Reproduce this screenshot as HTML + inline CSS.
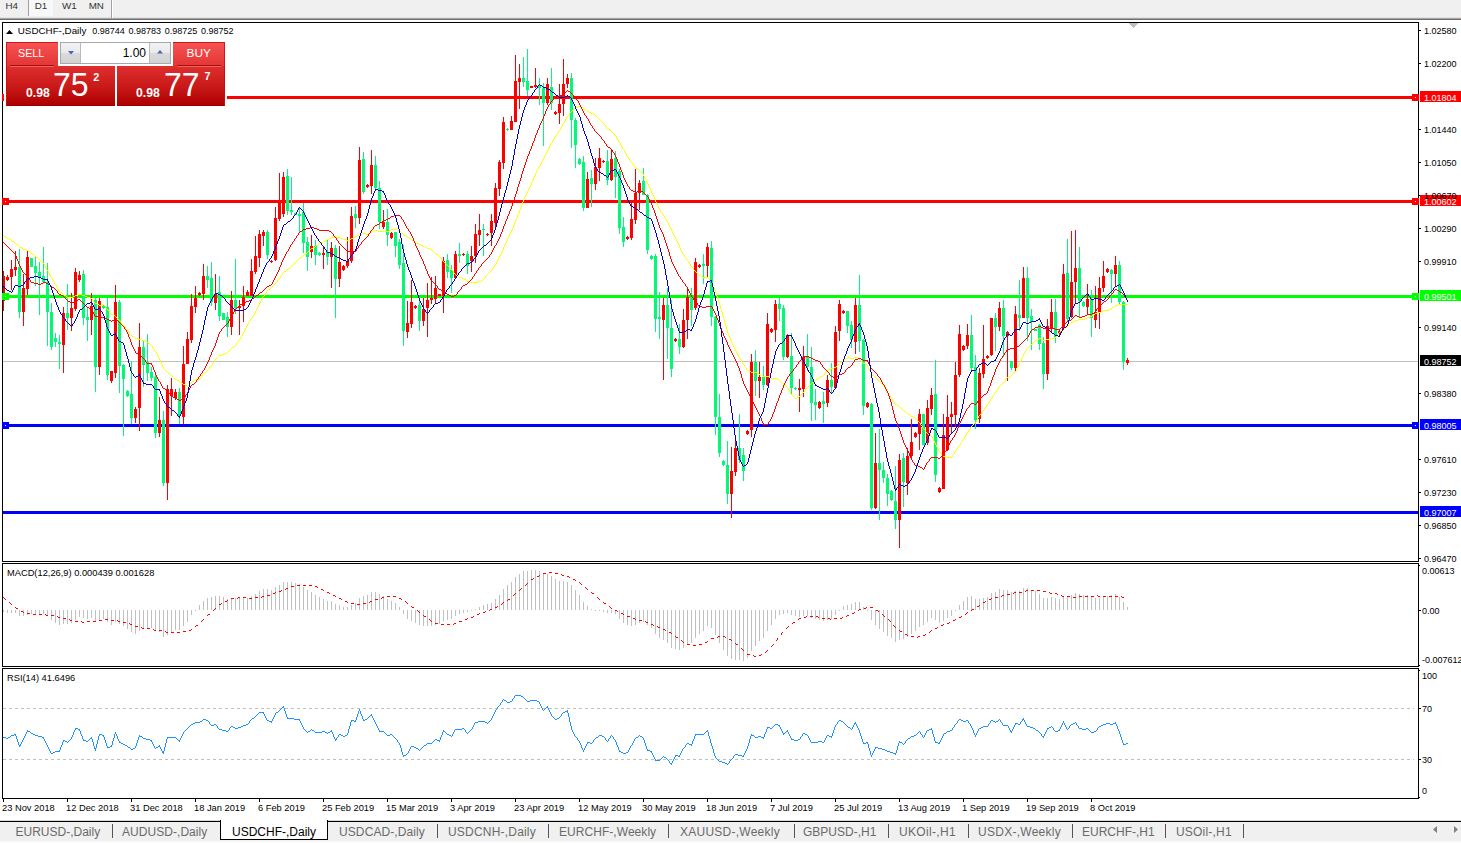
<!DOCTYPE html><html><head><meta charset="utf-8"><title>USDCHF-,Daily</title><style>
*{margin:0;padding:0;box-sizing:border-box}
html,body{width:1461px;height:843px;overflow:hidden;background:#fff}
body{font-family:"Liberation Sans",sans-serif;position:relative;color:#000}
.t{position:absolute;white-space:nowrap;line-height:1}
.ax{font-size:9.7px;left:1424px;transform:scaleX(.93);transform-origin:0 50%}
.axw{font-size:9.7px;left:1424px;color:#fff;transform:scaleX(.93);transform-origin:0 50%}
.dt{font-size:9.3px;top:803.6px}
.tab{font-size:12px;color:#6a6a6a;top:826px}
</style></head><body>
<div style="position:absolute;left:0;top:0;width:1461px;height:17px;background:#F0F0F0"></div>
<div style="position:absolute;left:0;top:17px;width:1461px;height:1px;background:#E2E2E2"></div>
<div style="position:absolute;left:0;top:18px;width:1461px;height:1px;background:#A6A6A6"></div>
<div style="position:absolute;left:0;top:19px;width:1461px;height:1px;background:#6E6E6E"></div>
<div style="position:absolute;left:29px;top:0;width:24px;height:16px;background:#F8F8F8"></div>
<div style="position:absolute;left:28px;top:0;width:1px;height:16px;background:#A0A0A0"></div>
<div style="position:absolute;left:111px;top:0;width:1px;height:18px;background:#A0A0A0"></div>
<div style="position:absolute;left:112px;top:0;width:1px;height:18px;background:#fff"></div>
<div class="t" style="left:5.5px;top:1.4px;font-size:9.8px;color:#333">H4</div>
<div class="t" style="left:34.8px;top:1.4px;font-size:9.8px;color:#333">D1</div>
<div class="t" style="left:62px;top:1.4px;font-size:9.8px;color:#333">W1</div>
<div class="t" style="left:88.7px;top:1.4px;font-size:9.8px;color:#333">MN</div>
<svg width="1461" height="843" viewBox="0 0 1461 843" style="position:absolute;left:0;top:0" shape-rendering="crispEdges"><defs><clipPath id="cm"><rect x="3" y="23" width="1415" height="538"/></clipPath><clipPath id="c2"><rect x="3" y="564" width="1415" height="102"/></clipPath><clipPath id="c3"><rect x="3" y="669" width="1415" height="129"/></clipPath></defs><g fill="#000"><rect x="2" y="22" width="1" height="777"/><rect x="2" y="22" width="1417" height="1"/><rect x="1418" y="22" width="1" height="777"/><rect x="2" y="561" width="1417" height="1"/><rect x="2" y="563" width="1417" height="1"/><rect x="2" y="666" width="1417" height="1"/><rect x="2" y="668" width="1417" height="1"/><rect x="2" y="798" width="1417" height="1"/></g><rect x="0" y="562" width="1461" height="1" fill="#fff"/><rect x="0" y="667" width="1461" height="1" fill="#fff"/><g clip-path="url(#cm)"><rect x="3" y="361" width="1415" height="1" fill="#C0C0C0"/><rect x="3" y="96" width="1415" height="3" fill="#FF0000"/><rect x="3" y="200" width="1415" height="3" fill="#FF0000"/><rect x="3" y="295" width="1415" height="3" fill="#00FF00"/><rect x="3" y="424" width="1415" height="3" fill="#0000FF"/><rect x="3" y="511" width="1415" height="3" fill="#0000FF"/><path d="M19 249h1v69h-1zM31 258h1v9h-1zM35 257h1v29h-1zM39 262h1v53h-1zM43 247h1v35h-1zM47 263h1v83h-1zM51 303h1v47h-1zM55 333h1v14h-1zM59 335h1v34h-1zM67 284h1v46h-1zM83 270h1v55h-1zM87 307h1v34h-1zM95 298h1v94h-1zM103 305h1v4h-1zM107 298h1v82h-1zM119 300h1v93h-1zM123 364h1v72h-1zM127 390h1v7h-1zM131 361h1v63h-1zM143 340h1v47h-1zM147 334h1v47h-1zM151 367h1v14h-1zM155 374h1v64h-1zM163 411h1v75h-1zM179 388h1v36h-1zM207 266h1v22h-1zM211 262h1v44h-1zM219 276h1v45h-1zM223 313h1v7h-1zM227 312h1v25h-1zM235 259h1v55h-1zM267 230h1v29h-1zM287 169h1v46h-1zM291 177h1v38h-1zM295 213h1v2h-1zM299 208h1v24h-1zM303 203h1v50h-1zM307 237h1v34h-1zM315 240h1v25h-1zM319 252h1v4h-1zM327 240h1v25h-1zM335 245h1v73h-1zM355 206h1v22h-1zM363 152h1v42h-1zM375 156h1v34h-1zM379 181h1v48h-1zM387 209h1v37h-1zM395 232h1v25h-1zM399 239h1v30h-1zM403 245h1v101h-1zM419 300h1v31h-1zM447 254h1v24h-1zM451 265h1v28h-1zM459 243h1v20h-1zM467 251h1v23h-1zM483 224h1v32h-1zM507 128h1v3h-1zM523 57h1v30h-1zM527 49h1v47h-1zM539 78h1v27h-1zM543 83h1v63h-1zM551 68h1v42h-1zM571 73h1v75h-1zM575 118h1v50h-1zM579 158h1v7h-1zM583 156h1v55h-1zM591 170h1v37h-1zM607 150h1v35h-1zM615 151h1v47h-1zM619 169h1v65h-1zM623 217h1v30h-1zM643 168h1v27h-1zM647 194h1v60h-1zM651 255h1v5h-1zM655 254h1v78h-1zM659 292h1v47h-1zM667 288h1v71h-1zM671 300h1v77h-1zM679 324h1v30h-1zM691 288h1v38h-1zM703 254h1v30h-1zM711 241h1v85h-1zM715 316h1v119h-1zM719 394h1v63h-1zM723 460h1v6h-1zM727 441h1v63h-1zM739 414h1v49h-1zM743 448h1v33h-1zM755 350h1v46h-1zM763 366h1v24h-1zM779 298h1v23h-1zM783 305h1v55h-1zM791 333h1v61h-1zM795 387h1v3h-1zM807 334h1v37h-1zM811 347h1v74h-1zM815 389h1v31h-1zM823 392h1v31h-1zM831 363h1v31h-1zM847 311h1v22h-1zM851 321h1v27h-1zM859 275h1v77h-1zM863 339h1v76h-1zM871 403h1v107h-1zM879 429h1v91h-1zM883 462h1v21h-1zM887 474h1v32h-1zM891 490h1v11h-1zM895 466h1v63h-1zM903 453h1v54h-1zM923 414h1v31h-1zM935 360h1v122h-1zM971 315h1v55h-1zM975 355h1v74h-1zM995 313h1v38h-1zM1003 300h1v57h-1zM1011 361h1v9h-1zM1019 280h1v51h-1zM1027 267h1v74h-1zM1031 309h1v41h-1zM1035 329h1v2h-1zM1039 324h1v26h-1zM1043 337h1v52h-1zM1055 299h1v44h-1zM1067 239h1v82h-1zM1079 247h1v70h-1zM1083 301h1v6h-1zM1091 290h1v47h-1zM1111 269h1v34h-1zM1119 261h1v43h-1zM1123 301h1v69h-1zM18 267h3v45h-3zM30 258h3v9h-3zM34 266h3v7h-3zM38 272h3v5h-3zM42 276h3v6h-3zM46 282h3v30h-3zM50 312h3v35h-3zM54 338h3v4h-3zM58 342h3v2h-3zM66 313h3v5h-3zM82 274h3v44h-3zM86 317h3v3h-3zM94 300h3v67h-3zM102 306h3v2h-3zM106 307h3v68h-3zM118 302h3v64h-3zM122 365h3v14h-3zM126 391h3v5h-3zM130 394h3v24h-3zM142 347h3v18h-3zM146 362h3v11h-3zM150 372h3v6h-3zM154 377h3v56h-3zM162 420h3v63h-3zM178 392h3v24h-3zM206 276h3v4h-3zM210 278h3v24h-3zM218 292h3v24h-3zM222 313h3v7h-3zM226 317h3v10h-3zM234 300h3v8h-3zM266 232h3v23h-3zM286 176h3v35h-3zM290 210h3v2h-3zM294 213h3v2h-3zM298 214h3v2h-3zM302 212h3v31h-3zM306 242h3v15h-3zM314 246h3v9h-3zM318 253h3v2h-3zM326 252h3v5h-3zM334 248h3v31h-3zM354 214h3v4h-3zM362 159h3v33h-3zM374 165h3v23h-3zM378 188h3v34h-3zM386 222h3v13h-3zM394 232h3v14h-3zM398 242h3v23h-3zM402 263h3v68h-3zM418 305h3v16h-3zM446 260h3v12h-3zM450 270h3v8h-3zM458 254h3v2h-3zM466 254h3v12h-3zM482 229h3v1h-3zM506 129h3v1h-3zM522 78h3v4h-3zM526 81h3v9h-3zM538 85h3v3h-3zM542 88h3v15h-3zM550 87h3v16h-3zM570 78h3v42h-3zM574 120h3v25h-3zM578 159h3v5h-3zM582 162h3v46h-3zM590 178h3v6h-3zM606 161h3v19h-3zM614 158h3v19h-3zM618 171h3v57h-3zM622 227h3v15h-3zM642 181h3v14h-3zM646 195h3v55h-3zM650 256h3v3h-3zM654 256h3v63h-3zM658 317h3v2h-3zM666 305h3v23h-3zM670 328h3v41h-3zM678 339h3v8h-3zM690 297h3v13h-3zM702 264h3v2h-3zM710 248h3v69h-3zM714 317h3v100h-3zM718 417h3v36h-3zM722 461h3v4h-3zM726 465h3v29h-3zM738 448h3v12h-3zM742 455h3v16h-3zM754 362h3v19h-3zM762 377h3v8h-3zM778 304h3v5h-3zM782 308h3v49h-3zM790 356h3v32h-3zM794 388h3v1h-3zM806 357h3v10h-3zM810 367h3v36h-3zM814 402h3v3h-3zM822 401h3v3h-3zM830 380h3v7h-3zM846 311h3v15h-3zM850 325h3v15h-3zM858 305h3v36h-3zM862 340h3v66h-3zM870 404h3v104h-3zM878 463h3v7h-3zM882 470h3v8h-3zM886 478h3v16h-3zM890 491h3v9h-3zM894 501h3v19h-3zM902 458h3v24h-3zM922 414h3v31h-3zM934 394h3v81h-3zM970 335h3v33h-3zM974 367h3v53h-3zM994 318h3v9h-3zM1002 308h3v28h-3zM1010 361h3v7h-3zM1018 315h3v3h-3zM1026 278h3v40h-3zM1030 316h3v6h-3zM1034 329h3v2h-3zM1038 325h3v19h-3zM1042 343h3v31h-3zM1054 312h3v25h-3zM1066 273h3v46h-3zM1078 268h3v33h-3zM1082 302h3v4h-3zM1090 299h3v19h-3zM1110 270h3v4h-3zM1118 265h3v37h-3zM1122 302h3v60h-3z" fill="#00FA78"/><path d="M3 271h1v40h-1zM7 275h1v6h-1zM11 260h1v30h-1zM15 251h1v25h-1zM23 274h1v52h-1zM27 250h1v45h-1zM63 307h1v66h-1zM71 293h1v38h-1zM75 268h1v43h-1zM79 271h1v11h-1zM91 293h1v42h-1zM99 298h1v77h-1zM111 371h1v12h-1zM115 285h1v93h-1zM135 407h1v16h-1zM139 323h1v108h-1zM159 397h1v40h-1zM167 385h1v115h-1zM171 378h1v38h-1zM175 389h1v11h-1zM183 346h1v78h-1zM187 332h1v32h-1zM191 294h1v49h-1zM195 286h1v27h-1zM199 292h1v4h-1zM203 264h1v36h-1zM215 274h1v36h-1zM231 291h1v44h-1zM239 300h1v35h-1zM243 286h1v36h-1zM247 290h1v6h-1zM251 259h1v37h-1zM255 236h1v38h-1zM259 230h1v37h-1zM263 230h1v16h-1zM271 260h1v3h-1zM275 207h1v54h-1zM279 173h1v48h-1zM283 172h1v45h-1zM311 235h1v23h-1zM323 246h1v23h-1zM331 242h1v46h-1zM339 246h1v41h-1zM343 265h1v6h-1zM347 237h1v31h-1zM351 207h1v56h-1zM359 147h1v77h-1zM367 184h1v4h-1zM371 150h1v44h-1zM383 210h1v19h-1zM391 232h1v7h-1zM407 301h1v37h-1zM411 280h1v48h-1zM415 305h1v4h-1zM423 298h1v28h-1zM427 283h1v54h-1zM431 277h1v27h-1zM435 276h1v28h-1zM439 294h1v2h-1zM443 257h1v56h-1zM455 251h1v28h-1zM463 253h1v3h-1zM471 246h1v26h-1zM475 224h1v39h-1zM479 214h1v32h-1zM487 233h1v3h-1zM491 214h1v32h-1zM495 183h1v44h-1zM499 160h1v36h-1zM503 117h1v52h-1zM511 116h1v14h-1zM515 55h1v67h-1zM519 64h1v45h-1zM531 86h1v2h-1zM535 68h1v20h-1zM547 78h1v27h-1zM555 111h1v4h-1zM559 84h1v40h-1zM563 59h1v57h-1zM567 74h1v14h-1zM587 172h1v36h-1zM595 158h1v32h-1zM599 148h1v33h-1zM603 160h1v3h-1zM611 150h1v31h-1zM627 236h1v4h-1zM631 203h1v37h-1zM635 169h1v55h-1zM639 180h1v30h-1zM663 298h1v82h-1zM675 338h1v4h-1zM683 309h1v39h-1zM687 288h1v51h-1zM695 258h1v52h-1zM699 264h1v4h-1zM707 243h1v35h-1zM731 447h1v71h-1zM735 441h1v35h-1zM747 430h1v5h-1zM751 354h1v83h-1zM759 362h1v36h-1zM767 313h1v73h-1zM771 328h1v5h-1zM775 300h1v42h-1zM787 334h1v24h-1zM799 379h1v33h-1zM803 346h1v51h-1zM819 401h1v8h-1zM827 375h1v32h-1zM835 326h1v63h-1zM839 300h1v41h-1zM843 310h1v4h-1zM855 298h1v56h-1zM867 402h1v6h-1zM875 433h1v76h-1zM899 454h1v94h-1zM907 448h1v47h-1zM911 419h1v39h-1zM915 432h1v6h-1zM919 409h1v41h-1zM927 400h1v45h-1zM931 388h1v27h-1zM939 487h1v6h-1zM943 414h1v75h-1zM947 395h1v56h-1zM951 402h1v32h-1zM955 362h1v65h-1zM959 325h1v52h-1zM963 345h1v6h-1zM967 324h1v25h-1zM979 368h1v55h-1zM983 325h1v53h-1zM987 355h1v4h-1zM991 318h1v38h-1zM999 302h1v29h-1zM1007 331h1v50h-1zM1015 306h1v65h-1zM1023 267h1v51h-1zM1047 319h1v61h-1zM1051 299h1v33h-1zM1059 330h1v5h-1zM1063 264h1v66h-1zM1071 231h1v87h-1zM1075 230h1v74h-1zM1087 284h1v31h-1zM1095 286h1v42h-1zM1099 277h1v52h-1zM1103 261h1v31h-1zM1107 268h1v5h-1zM1115 256h1v30h-1zM1127 358h1v7h-1zM2 276h3v25h-3zM6 277h3v3h-3zM10 269h3v8h-3zM14 267h3v3h-3zM22 288h3v24h-3zM26 257h3v32h-3zM62 313h3v32h-3zM70 308h3v10h-3zM74 272h3v37h-3zM78 275h3v5h-3zM90 306h3v14h-3zM98 301h3v66h-3zM110 371h3v10h-3zM114 302h3v71h-3zM134 409h3v9h-3zM138 347h3v61h-3zM158 420h3v13h-3zM166 389h3v94h-3zM170 389h3v7h-3zM174 392h3v6h-3zM182 364h3v53h-3zM186 339h3v25h-3zM190 306h3v34h-3zM194 298h3v9h-3zM198 293h3v2h-3zM202 276h3v18h-3zM214 294h3v9h-3zM230 300h3v27h-3zM238 306h3v2h-3zM242 297h3v9h-3zM246 292h3v4h-3zM250 271h3v25h-3zM254 256h3v16h-3zM258 234h3v24h-3zM262 232h3v4h-3zM270 261h3v1h-3zM274 218h3v42h-3zM278 201h3v18h-3zM282 177h3v37h-3zM310 246h3v6h-3zM322 253h3v2h-3zM330 248h3v9h-3zM338 262h3v17h-3zM342 266h3v4h-3zM346 261h3v5h-3zM350 216h3v45h-3zM358 160h3v58h-3zM366 185h3v2h-3zM370 165h3v21h-3zM382 222h3v5h-3zM390 233h3v5h-3zM406 323h3v9h-3zM410 302h3v22h-3zM414 306h3v2h-3zM422 309h3v12h-3zM426 300h3v8h-3zM430 298h3v2h-3zM434 288h3v11h-3zM438 294h3v2h-3zM442 261h3v35h-3zM454 254h3v24h-3zM462 254h3v1h-3zM470 256h3v5h-3zM474 234h3v22h-3zM478 230h3v5h-3zM486 234h3v1h-3zM490 221h3v12h-3zM494 188h3v35h-3zM498 162h3v27h-3zM502 122h3v41h-3zM510 121h3v9h-3zM514 81h3v41h-3zM518 78h3v4h-3zM530 86h3v2h-3zM534 85h3v2h-3zM546 84h3v19h-3zM554 112h3v2h-3zM558 104h3v9h-3zM562 84h3v20h-3zM566 78h3v6h-3zM586 179h3v29h-3zM594 167h3v17h-3zM598 158h3v10h-3zM602 161h3v1h-3zM610 159h3v21h-3zM626 237h3v2h-3zM630 219h3v19h-3zM634 193h3v27h-3zM638 183h3v10h-3zM662 305h3v15h-3zM674 339h3v2h-3zM682 320h3v27h-3zM686 297h3v23h-3zM694 262h3v46h-3zM698 265h3v2h-3zM706 247h3v19h-3zM730 471h3v23h-3zM734 448h3v24h-3zM746 431h3v3h-3zM750 362h3v68h-3zM758 377h3v4h-3zM766 324h3v61h-3zM770 329h3v3h-3zM774 304h3v26h-3zM786 335h3v22h-3zM798 388h3v2h-3zM802 357h3v32h-3zM818 402h3v6h-3zM826 380h3v23h-3zM834 332h3v56h-3zM838 304h3v27h-3zM842 311h3v2h-3zM854 305h3v37h-3zM866 403h3v4h-3zM874 463h3v45h-3zM898 460h3v60h-3zM906 456h3v27h-3zM910 442h3v14h-3zM914 433h3v4h-3zM918 414h3v20h-3zM926 408h3v35h-3zM930 395h3v14h-3zM938 488h3v4h-3zM942 435h3v54h-3zM946 417h3v33h-3zM950 414h3v3h-3zM954 375h3v40h-3zM958 334h3v41h-3zM962 346h3v4h-3zM966 335h3v11h-3zM978 373h3v46h-3zM982 359h3v15h-3zM986 356h3v2h-3zM990 318h3v37h-3zM998 308h3v19h-3zM1006 332h3v4h-3zM1014 314h3v54h-3zM1022 278h3v40h-3zM1046 326h3v48h-3zM1050 312h3v17h-3zM1058 331h3v3h-3zM1062 274h3v55h-3zM1070 282h3v35h-3zM1074 268h3v14h-3zM1086 299h3v8h-3zM1094 312h3v8h-3zM1098 288h3v24h-3zM1102 276h3v12h-3zM1106 269h3v3h-3zM1114 265h3v9h-3zM1126 360h3v3h-3z" fill="#FF0000"/><path d="M3 235h1v1h-1zM4 236h2v1h-2zM6 237h1v1h-1zM7 238h2v1h-2zM9 239h2v1h-2zM11 240h1v1h-1zM12 241h2v1h-2zM14 242h1v1h-1zM15 243h1v1h-1zM16 244h2v1h-2zM18 245h1v1h-1zM19 246h1v1h-1zM20 247h2v1h-2zM22 248h1v1h-1zM23 249h3v1h-3zM26 250h2v1h-2zM28 251h2v1h-2zM30 252h1v1h-1zM31 253h1v1h-1zM32 254h2v1h-2zM34 255h1v1h-1zM35 256h1v1h-1zM36 257h2v1h-2zM38 258h1v1h-1zM39 259h1v1h-1zM40 260h1v1h-1zM41 261h1v1h-1zM42 262h1v1h-1zM43 263h1v1h-1zM44 264h1v2h-1zM45 266h1v2h-1zM46 268h1v2h-1zM47 270h1v1h-1zM48 271h1v2h-1zM49 273h1v2h-1zM50 275h1v2h-1zM51 277h1v1h-1zM52 278h1v2h-1zM53 280h1v2h-1zM54 282h1v2h-1zM55 284h1v1h-1zM56 285h1v2h-1zM57 287h1v2h-1zM58 289h1v2h-1zM59 291h1v1h-1zM60 292h2v1h-2zM62 293h1v1h-1zM63 294h1v1h-1zM64 295h2v1h-2zM66 296h1v1h-1zM67 297h6v1h-6zM73 296h2v1h-2zM75 295h3v1h-3zM78 294h4v1h-4zM82 295h3v1h-3zM85 296h2v1h-2zM87 297h3v1h-3zM90 298h2v1h-2zM92 299h1v1h-1zM93 300h1v2h-1zM94 302h1v1h-1zM95 303h2v1h-2zM97 304h2v1h-2zM99 305h3v1h-3zM102 304h2v1h-2zM104 305h1v1h-1zM105 306h1v2h-1zM106 308h1v1h-1zM107 309h1v1h-1zM108 310h1v1h-1zM109 311h1v2h-1zM110 313h1v1h-1zM111 314h2v1h-2zM113 315h2v1h-2zM115 316h1v1h-1zM116 317h1v1h-1zM117 318h1v1h-1zM118 319h1v1h-1zM119 320h1v1h-1zM120 321h1v1h-1zM121 322h1v2h-1zM122 324h1v1h-1zM123 325h1v1h-1zM124 326h1v1h-1zM125 327h1v2h-1zM126 329h1v1h-1zM127 330h1v1h-1zM128 331h1v1h-1zM129 332h1v2h-1zM130 334h1v1h-1zM131 335h1v1h-1zM132 336h2v1h-2zM134 337h1v1h-1zM135 338h3v1h-3zM138 339h4v1h-4zM142 340h3v1h-3zM145 341h2v1h-2zM147 342h1v1h-1zM148 343h2v1h-2zM150 344h1v1h-1zM151 345h1v1h-1zM152 346h1v2h-1zM153 348h1v1h-1zM154 349h1v2h-1zM155 351h1v1h-1zM156 352h1v2h-1zM157 354h1v2h-1zM158 356h1v2h-1zM159 358h1v2h-1zM160 360h1v2h-1zM161 362h1v3h-1zM162 365h1v2h-1zM163 367h1v2h-1zM164 369h1v1h-1zM165 370h1v1h-1zM166 371h1v1h-1zM167 372h1v1h-1zM168 373h2v1h-2zM170 374h1v1h-1zM171 375h1v1h-1zM172 376h1v1h-1zM173 377h1v1h-1zM174 378h1v1h-1zM175 379h2v1h-2zM177 380h2v1h-2zM179 381h1v1h-1zM180 382h2v1h-2zM182 383h1v1h-1zM183 384h2v1h-2zM185 385h2v1h-2zM187 386h1v1h-1zM188 385h1v1h-1zM189 384h1v1h-1zM190 383h1v1h-1zM191 382h1v1h-1zM192 381h2v1h-2zM194 380h1v1h-1zM195 379h5v1h-5zM200 378h1v1h-1zM201 376h1v2h-1zM202 375h1v1h-1zM203 374h1v1h-1zM204 373h1v1h-1zM205 372h1v1h-1zM206 371h1v1h-1zM207 370h1v1h-1zM208 369h1v1h-1zM209 367h1v2h-1zM210 366h1v1h-1zM211 365h1v1h-1zM212 363h1v2h-1zM213 362h1v1h-1zM214 360h1v2h-1zM215 359h1v1h-1zM216 358h1v1h-1zM217 357h1v1h-1zM218 356h1v1h-1zM219 355h3v1h-3zM222 354h3v1h-3zM225 353h2v1h-2zM227 352h1v1h-1zM228 351h1v1h-1zM229 350h1v1h-1zM230 349h1v1h-1zM231 348h1v1h-1zM232 347h2v1h-2zM234 346h1v1h-1zM235 345h1v1h-1zM236 343h1v2h-1zM237 342h1v1h-1zM238 340h1v2h-1zM239 339h1v1h-1zM240 337h1v2h-1zM241 336h1v1h-1zM242 334h1v2h-1zM243 332h1v2h-1zM244 330h1v2h-1zM245 328h1v2h-1zM246 326h1v2h-1zM247 324h1v2h-1zM248 322h1v2h-1zM249 321h1v1h-1zM250 319h1v2h-1zM251 318h1v1h-1zM252 316h1v2h-1zM253 315h1v1h-1zM254 313h1v2h-1zM255 311h1v2h-1zM256 309h1v2h-1zM257 307h1v2h-1zM258 305h1v2h-1zM259 303h1v2h-1zM260 301h1v2h-1zM261 299h1v2h-1zM262 297h1v2h-1zM263 296h1v1h-1zM264 294h1v2h-1zM265 293h1v1h-1zM266 291h1v2h-1zM267 290h1v1h-1zM268 289h2v1h-2zM270 288h1v1h-1zM271 287h1v1h-1zM272 286h1v1h-1zM273 285h1v1h-1zM274 284h1v1h-1zM275 283h1v1h-1zM276 282h1v1h-1zM277 280h1v2h-1zM278 279h1v1h-1zM279 278h1v1h-1zM280 276h1v2h-1zM281 275h1v1h-1zM282 273h1v2h-1zM283 272h1v1h-1zM284 271h2v1h-2zM286 270h1v1h-1zM287 269h1v1h-1zM288 268h2v1h-2zM290 267h1v1h-1zM291 266h1v1h-1zM292 265h1v1h-1zM293 264h1v1h-1zM294 263h1v1h-1zM295 262h1v1h-1zM296 261h1v1h-1zM297 260h1v1h-1zM298 259h1v1h-1zM299 258h1v1h-1zM300 257h2v1h-2zM302 256h1v1h-1zM303 255h1v1h-1zM304 254h2v1h-2zM306 253h1v1h-1zM307 252h1v1h-1zM308 251h1v1h-1zM309 250h1v1h-1zM310 249h1v1h-1zM311 248h2v1h-2zM313 247h2v1h-2zM315 246h1v1h-1zM316 245h2v1h-2zM318 244h1v1h-1zM319 243h2v1h-2zM321 242h2v1h-2zM323 241h2v1h-2zM325 240h2v1h-2zM327 239h2v1h-2zM329 238h2v1h-2zM331 237h10v1h-10zM341 238h2v1h-2zM343 239h3v1h-3zM346 240h3v1h-3zM349 239h2v1h-2zM351 238h2v1h-2zM353 237h2v1h-2zM355 236h2v1h-2zM357 235h2v1h-2zM359 234h3v1h-3zM362 233h4v1h-4zM366 234h2v1h-2zM368 233h2v1h-2zM370 232h1v1h-1zM371 231h3v1h-3zM374 230h4v1h-4zM378 231h11v1h-11zM389 230h2v1h-2zM391 229h7v1h-7zM398 230h2v1h-2zM400 231h1v1h-1zM401 232h1v1h-1zM402 233h1v1h-1zM403 234h1v1h-1zM404 235h2v1h-2zM406 236h1v1h-1zM407 237h2v1h-2zM409 238h2v1h-2zM411 239h1v1h-1zM412 240h2v1h-2zM414 241h1v1h-1zM415 242h2v1h-2zM417 243h2v1h-2zM419 244h2v1h-2zM421 245h2v1h-2zM423 246h2v1h-2zM425 247h2v1h-2zM427 248h3v1h-3zM430 249h2v1h-2zM432 250h1v1h-1zM433 251h1v1h-1zM434 252h1v1h-1zM435 253h1v1h-1zM436 254h2v1h-2zM438 255h1v1h-1zM439 256h1v1h-1zM440 257h1v1h-1zM441 258h1v2h-1zM442 260h1v1h-1zM443 261h1v1h-1zM444 262h1v1h-1zM445 263h1v1h-1zM446 264h1v1h-1zM447 265h1v1h-1zM448 266h1v1h-1zM449 267h1v1h-1zM450 268h1v1h-1zM451 269h1v1h-1zM452 270h1v1h-1zM453 271h1v2h-1zM454 273h1v1h-1zM455 274h1v1h-1zM456 275h2v1h-2zM458 276h1v1h-1zM459 277h3v1h-3zM462 278h2v1h-2zM464 279h2v1h-2zM466 280h1v1h-1zM467 281h3v1h-3zM470 282h8v1h-8zM478 281h3v1h-3zM481 280h2v1h-2zM483 279h1v1h-1zM484 278h1v1h-1zM485 276h1v2h-1zM486 275h1v1h-1zM487 274h1v1h-1zM488 273h1v1h-1zM489 272h1v1h-1zM490 271h1v1h-1zM491 270h1v1h-1zM492 268h1v2h-1zM493 267h1v1h-1zM494 265h1v2h-1zM495 264h1v1h-1zM496 262h1v2h-1zM497 260h1v2h-1zM498 258h1v2h-1zM499 256h1v2h-1zM500 254h1v2h-1zM501 252h1v2h-1zM502 250h1v2h-1zM503 247h1v3h-1zM504 245h1v2h-1zM505 243h1v2h-1zM506 241h1v2h-1zM507 238h1v3h-1zM508 236h1v2h-1zM509 234h1v2h-1zM510 232h1v2h-1zM511 230h1v2h-1zM512 228h1v2h-1zM513 225h1v3h-1zM514 223h1v2h-1zM515 220h1v3h-1zM516 218h1v2h-1zM517 215h1v3h-1zM518 213h1v2h-1zM519 210h1v3h-1zM520 207h1v3h-1zM521 205h1v2h-1zM522 202h1v3h-1zM523 199h1v3h-1zM524 197h1v2h-1zM525 195h1v2h-1zM526 193h1v2h-1zM527 191h1v2h-1zM528 189h1v2h-1zM529 187h1v2h-1zM530 185h1v2h-1zM531 182h1v3h-1zM532 180h1v2h-1zM533 178h1v2h-1zM534 176h1v2h-1zM535 173h1v3h-1zM536 171h1v2h-1zM537 169h1v2h-1zM538 167h1v2h-1zM539 166h1v1h-1zM540 164h1v2h-1zM541 162h1v2h-1zM542 160h1v2h-1zM543 158h1v2h-1zM544 156h1v2h-1zM545 154h1v2h-1zM546 152h1v2h-1zM547 150h1v2h-1zM548 148h1v2h-1zM549 146h1v2h-1zM550 144h1v2h-1zM551 143h1v1h-1zM552 141h1v2h-1zM553 139h1v2h-1zM554 137h1v2h-1zM555 136h1v1h-1zM556 134h1v2h-1zM557 133h1v1h-1zM558 131h1v2h-1zM559 130h1v1h-1zM560 128h1v2h-1zM561 126h1v2h-1zM562 124h1v2h-1zM563 123h1v1h-1zM564 121h1v2h-1zM565 119h1v2h-1zM566 117h1v2h-1zM567 116h1v1h-1zM568 115h1v1h-1zM569 113h1v2h-1zM570 112h1v1h-1zM571 111h1v1h-1zM572 110h1v1h-1zM573 109h1v1h-1zM574 108h1v1h-1zM575 107h3v1h-3zM578 106h3v1h-3zM581 107h2v1h-2zM583 108h1v1h-1zM584 109h2v1h-2zM586 110h1v1h-1zM587 111h2v1h-2zM589 112h2v1h-2zM591 113h2v1h-2zM593 114h2v1h-2zM595 115h1v1h-1zM596 116h1v1h-1zM597 117h1v1h-1zM598 118h1v1h-1zM599 119h1v1h-1zM600 120h1v1h-1zM601 121h1v1h-1zM602 122h1v1h-1zM603 123h1v1h-1zM604 124h1v1h-1zM605 125h1v2h-1zM606 127h1v1h-1zM607 128h1v1h-1zM608 129h2v1h-2zM610 130h1v1h-1zM611 131h1v1h-1zM612 132h1v1h-1zM613 133h1v1h-1zM614 134h1v1h-1zM615 135h1v1h-1zM616 136h1v2h-1zM617 138h1v2h-1zM618 140h1v2h-1zM619 142h1v1h-1zM620 143h1v2h-1zM621 145h1v2h-1zM622 147h1v2h-1zM623 149h1v1h-1zM624 150h1v2h-1zM625 152h1v2h-1zM626 154h1v2h-1zM627 156h1v1h-1zM628 157h1v2h-1zM629 159h1v1h-1zM630 160h1v2h-1zM631 162h1v1h-1zM632 163h1v1h-1zM633 164h1v2h-1zM634 166h1v1h-1zM635 167h1v1h-1zM636 168h2v1h-2zM638 169h1v1h-1zM639 170h1v1h-1zM640 171h1v1h-1zM641 172h1v1h-1zM642 173h1v1h-1zM643 174h1v2h-1zM644 176h1v2h-1zM645 178h1v2h-1zM646 180h1v2h-1zM647 182h1v2h-1zM648 184h1v2h-1zM649 186h1v2h-1zM650 188h1v2h-1zM651 190h1v3h-1zM652 193h1v2h-1zM653 195h1v2h-1zM654 197h1v2h-1zM655 199h1v3h-1zM656 202h1v2h-1zM657 204h1v2h-1zM658 206h1v2h-1zM659 208h1v2h-1zM660 210h1v2h-1zM661 212h1v1h-1zM662 213h1v2h-1zM663 215h1v1h-1zM664 216h1v2h-1zM665 218h1v1h-1zM666 219h1v2h-1zM667 221h1v2h-1zM668 223h1v2h-1zM669 225h1v2h-1zM670 227h1v2h-1zM671 229h1v2h-1zM672 231h1v2h-1zM673 233h1v2h-1zM674 235h1v2h-1zM675 237h1v2h-1zM676 239h1v2h-1zM677 241h1v2h-1zM678 243h1v2h-1zM679 245h1v3h-1zM680 248h1v2h-1zM681 250h1v2h-1zM682 252h1v2h-1zM683 254h1v1h-1zM684 255h1v2h-1zM685 257h1v1h-1zM686 258h1v2h-1zM687 260h1v1h-1zM688 261h1v2h-1zM689 263h1v1h-1zM690 264h1v2h-1zM691 266h1v1h-1zM692 267h1v1h-1zM693 268h1v2h-1zM694 270h1v1h-1zM695 271h1v1h-1zM696 272h1v1h-1zM697 273h1v1h-1zM698 274h1v1h-1zM699 275h2v1h-2zM701 276h2v1h-2zM703 277h5v1h-5zM708 278h1v1h-1zM709 279h1v1h-1zM710 280h1v1h-1zM711 281h1v2h-1zM712 283h1v2h-1zM713 285h1v3h-1zM714 288h1v2h-1zM715 290h1v3h-1zM716 293h1v3h-1zM717 296h1v3h-1zM718 299h1v3h-1zM719 302h1v3h-1zM720 305h1v4h-1zM721 309h1v3h-1zM722 312h1v4h-1zM723 316h1v3h-1zM724 319h1v4h-1zM725 323h1v3h-1zM726 326h1v4h-1zM727 330h1v3h-1zM728 333h1v2h-1zM729 335h1v3h-1zM730 338h1v2h-1zM731 340h1v3h-1zM732 343h1v2h-1zM733 345h1v2h-1zM734 347h1v2h-1zM735 349h1v2h-1zM736 351h1v2h-1zM737 353h1v2h-1zM738 355h1v2h-1zM739 357h1v1h-1zM740 358h1v2h-1zM741 360h1v2h-1zM742 362h1v2h-1zM743 364h1v1h-1zM744 365h1v2h-1zM745 367h1v1h-1zM746 368h1v2h-1zM747 370h2v1h-2zM749 371h2v1h-2zM751 372h6v1h-6zM757 373h2v1h-2zM759 374h2v1h-2zM761 375h2v1h-2zM763 376h6v1h-6zM769 377h2v1h-2zM771 378h6v1h-6zM777 379h2v1h-2zM779 380h1v1h-1zM780 381h1v1h-1zM781 382h1v1h-1zM782 383h1v1h-1zM783 384h1v1h-1zM784 385h2v1h-2zM786 386h1v1h-1zM787 387h1v1h-1zM788 388h1v2h-1zM789 390h1v2h-1zM790 392h1v2h-1zM791 394h1v1h-1zM792 395h1v1h-1zM793 396h1v1h-1zM794 397h1v1h-1zM795 398h2v1h-2zM797 397h2v1h-2zM799 396h1v1h-1zM800 395h1v1h-1zM801 394h1v1h-1zM802 393h1v1h-1zM803 392h1v1h-1zM804 391h1v1h-1zM805 389h1v2h-1zM806 388h1v1h-1zM807 387h1v1h-1zM808 386h1v1h-1zM809 385h1v1h-1zM810 384h1v1h-1zM811 383h1v1h-1zM812 382h2v1h-2zM814 381h1v1h-1zM815 380h1v1h-1zM816 379h2v1h-2zM818 378h1v1h-1zM819 377h2v1h-2zM821 376h2v1h-2zM823 375h1v1h-1zM824 374h1v1h-1zM825 372h1v2h-1zM826 371h1v1h-1zM827 370h2v1h-2zM829 369h2v1h-2zM831 368h3v1h-3zM834 367h2v1h-2zM836 366h1v1h-1zM837 365h1v1h-1zM838 364h1v1h-1zM839 363h1v1h-1zM840 362h2v1h-2zM842 361h1v1h-1zM843 360h1v1h-1zM844 359h2v1h-2zM846 358h1v1h-1zM847 357h3v1h-3zM850 358h4v1h-4zM854 357h3v1h-3zM857 358h2v1h-2zM859 359h1v1h-1zM860 360h1v1h-1zM861 361h1v1h-1zM862 362h1v1h-1zM863 363h2v1h-2zM865 364h2v1h-2zM867 365h1v2h-1zM868 367h1v2h-1zM869 369h1v2h-1zM870 371h1v2h-1zM871 373h1v2h-1zM872 375h2v1h-2zM874 376h1v1h-1zM875 377h1v1h-1zM876 378h1v1h-1zM877 379h1v1h-1zM878 380h1v1h-1zM879 381h1v1h-1zM880 382h1v1h-1zM881 383h1v1h-1zM882 384h1v1h-1zM883 385h1v1h-1zM884 386h1v2h-1zM885 388h1v2h-1zM886 390h1v2h-1zM887 392h1v1h-1zM888 393h1v2h-1zM889 395h1v1h-1zM890 396h1v2h-1zM891 398h1v1h-1zM892 399h1v2h-1zM893 401h1v1h-1zM894 402h1v2h-1zM895 404h2v1h-2zM897 405h2v1h-2zM899 406h1v1h-1zM900 407h1v1h-1zM901 408h1v1h-1zM902 409h1v1h-1zM903 410h1v1h-1zM904 411h2v1h-2zM906 412h1v1h-1zM907 413h1v1h-1zM908 414h2v1h-2zM910 415h1v1h-1zM911 416h2v1h-2zM913 417h2v1h-2zM915 418h1v1h-1zM916 419h1v1h-1zM917 420h1v1h-1zM918 421h1v1h-1zM919 422h1v1h-1zM920 423h1v2h-1zM921 425h1v1h-1zM922 426h1v2h-1zM923 428h1v1h-1zM924 429h1v1h-1zM925 430h1v2h-1zM926 432h1v1h-1zM927 433h1v1h-1zM928 434h2v1h-2zM930 435h1v1h-1zM931 436h1v1h-1zM932 437h1v2h-1zM933 439h1v2h-1zM934 441h1v2h-1zM935 443h1v2h-1zM936 445h1v2h-1zM937 447h1v2h-1zM938 449h1v2h-1zM939 451h1v1h-1zM940 452h1v1h-1zM941 453h1v2h-1zM942 455h1v1h-1zM943 456h3v1h-3zM946 457h6v1h-6zM952 455h1v2h-1zM953 454h1v1h-1zM954 452h1v2h-1zM955 451h1v1h-1zM956 449h1v2h-1zM957 448h1v1h-1zM958 446h1v2h-1zM959 445h1v1h-1zM960 443h1v2h-1zM961 442h1v1h-1zM962 440h1v2h-1zM963 439h1v1h-1zM964 437h1v2h-1zM965 435h1v2h-1zM966 433h1v2h-1zM967 432h1v1h-1zM968 430h1v2h-1zM969 429h1v1h-1zM970 427h1v2h-1zM971 426h1v1h-1zM972 425h1v1h-1zM973 424h1v1h-1zM974 423h1v1h-1zM975 422h1v1h-1zM976 420h1v2h-1zM977 418h1v2h-1zM978 416h1v2h-1zM979 415h1v1h-1zM980 414h1v1h-1zM981 412h1v2h-1zM982 411h1v1h-1zM983 410h1v1h-1zM984 408h1v2h-1zM985 407h1v1h-1zM986 405h1v2h-1zM987 404h1v1h-1zM988 402h1v2h-1zM989 401h1v1h-1zM990 399h1v2h-1zM991 398h1v1h-1zM992 396h1v2h-1zM993 395h1v1h-1zM994 393h1v2h-1zM995 392h1v1h-1zM996 390h1v2h-1zM997 389h1v1h-1zM998 387h1v2h-1zM999 386h1v1h-1zM1000 385h1v1h-1zM1001 384h1v1h-1zM1002 383h1v1h-1zM1003 382h1v1h-1zM1004 381h1v1h-1zM1005 379h1v2h-1zM1006 378h1v1h-1zM1007 377h2v1h-2zM1009 376h2v1h-2zM1011 375h1v1h-1zM1012 374h1v1h-1zM1013 373h1v1h-1zM1014 372h1v1h-1zM1015 371h1v1h-1zM1016 369h1v2h-1zM1017 367h1v2h-1zM1018 365h1v2h-1zM1019 363h1v2h-1zM1020 361h1v2h-1zM1021 358h1v3h-1zM1022 356h1v2h-1zM1023 354h1v2h-1zM1024 352h1v2h-1zM1025 351h1v1h-1zM1026 349h1v2h-1zM1027 348h1v1h-1zM1028 347h1v1h-1zM1029 346h1v1h-1zM1030 345h1v1h-1zM1031 344h1v1h-1zM1032 343h1v1h-1zM1033 342h1v1h-1zM1034 341h1v1h-1zM1035 340h2v1h-2zM1037 339h2v1h-2zM1039 338h2v1h-2zM1041 339h2v1h-2zM1043 340h3v1h-3zM1046 339h4v1h-4zM1050 338h4v1h-4zM1054 337h2v1h-2zM1056 336h1v1h-1zM1057 334h1v2h-1zM1058 333h1v1h-1zM1059 332h1v1h-1zM1060 331h1v1h-1zM1061 330h1v1h-1zM1062 329h1v1h-1zM1063 328h2v1h-2zM1065 327h2v1h-2zM1067 326h1v1h-1zM1068 325h1v1h-1zM1069 324h1v1h-1zM1070 323h1v1h-1zM1071 322h2v1h-2zM1073 321h2v1h-2zM1075 320h3v1h-3zM1078 319h7v1h-7zM1085 318h2v1h-2zM1087 317h3v1h-3zM1090 316h2v1h-2zM1092 315h2v1h-2zM1094 314h1v1h-1zM1095 313h3v1h-3zM1098 312h3v1h-3zM1101 311h2v1h-2zM1103 310h6v1h-6zM1109 309h2v1h-2zM1111 308h1v1h-1zM1112 307h2v1h-2zM1114 306h1v1h-1zM1115 305h3v1h-3zM1118 304h10v1h-10z" fill="#FFFF00"/><path d="M3 242h1v1h-1zM4 243h1v1h-1zM5 244h1v1h-1zM6 245h1v1h-1zM7 246h1v1h-1zM8 247h1v1h-1zM9 248h1v1h-1zM10 249h1v1h-1zM11 250h1v1h-1zM12 251h1v1h-1zM13 252h1v1h-1zM14 253h1v1h-1zM15 254h1v2h-1zM16 256h1v3h-1zM17 259h1v2h-1zM18 261h1v3h-1zM19 264h1v2h-1zM20 266h1v2h-1zM21 268h1v2h-1zM22 270h1v2h-1zM23 272h1v1h-1zM24 273h1v1h-1zM25 274h1v1h-1zM26 275h1v1h-1zM27 276h1v1h-1zM28 277h1v2h-1zM29 279h1v1h-1zM30 280h1v2h-1zM31 282h3v1h-3zM34 283h4v1h-4zM38 284h3v1h-3zM41 283h2v1h-2zM43 282h3v1h-3zM46 283h2v1h-2zM48 284h2v1h-2zM50 285h1v1h-1zM51 286h1v1h-1zM52 287h2v1h-2zM54 288h1v1h-1zM55 289h1v1h-1zM56 290h1v1h-1zM57 291h1v2h-1zM58 293h1v1h-1zM59 294h2v1h-2zM61 295h2v1h-2zM63 296h1v1h-1zM64 297h1v1h-1zM65 298h1v1h-1zM66 299h1v1h-1zM67 300h1v1h-1zM68 301h2v1h-2zM70 302h1v1h-1zM71 303h1v1h-1zM72 302h2v1h-2zM74 301h1v1h-1zM75 300h3v1h-3zM78 299h2v1h-2zM80 300h1v1h-1zM81 301h1v1h-1zM82 302h1v1h-1zM83 303h1v1h-1zM84 304h1v1h-1zM85 305h1v1h-1zM86 306h1v1h-1zM87 307h2v1h-2zM89 308h2v1h-2zM91 309h1v1h-1zM92 310h1v2h-1zM93 312h1v2h-1zM94 314h1v2h-1zM95 316h3v1h-3zM98 317h7v1h-7zM105 318h2v1h-2zM107 319h2v1h-2zM109 320h2v1h-2zM111 321h1v1h-1zM112 320h2v1h-2zM114 319h1v1h-1zM115 318h1v1h-1zM116 319h1v1h-1zM117 320h1v1h-1zM118 321h1v1h-1zM119 322h1v1h-1zM120 323h1v1h-1zM121 324h1v1h-1zM122 325h1v1h-1zM123 326h1v1h-1zM124 327h1v2h-1zM125 329h1v1h-1zM126 330h1v2h-1zM127 332h1v2h-1zM128 334h1v3h-1zM129 337h1v2h-1zM130 339h1v3h-1zM131 342h1v3h-1zM132 345h1v2h-1zM133 347h1v2h-1zM134 349h1v2h-1zM135 351h1v2h-1zM136 353h2v1h-2zM138 354h1v1h-1zM139 355h1v1h-1zM140 356h2v1h-2zM142 357h1v1h-1zM143 358h1v1h-1zM144 359h1v1h-1zM145 360h1v2h-1zM146 362h1v1h-1zM147 363h4v1h-4zM151 363h1v2h-1zM152 365h1v2h-1zM153 367h1v3h-1zM154 370h1v2h-1zM155 372h1v3h-1zM156 375h1v2h-1zM157 377h1v2h-1zM158 379h1v2h-1zM159 381h1v1h-1zM160 382h1v2h-1zM161 384h1v2h-1zM162 386h1v2h-1zM163 388h2v1h-2zM165 389h2v1h-2zM167 390h1v1h-1zM168 391h1v2h-1zM169 393h1v1h-1zM170 394h1v2h-1zM171 396h2v1h-2zM173 397h2v1h-2zM175 398h2v1h-2zM177 399h2v1h-2zM179 400h2v1h-2zM181 399h2v1h-2zM183 398h1v1h-1zM184 397h1v1h-1zM185 395h1v2h-1zM186 394h1v1h-1zM187 392h1v2h-1zM188 390h1v2h-1zM189 388h1v2h-1zM190 386h1v2h-1zM191 385h1v1h-1zM192 384h2v1h-2zM194 383h1v1h-1zM195 382h1v1h-1zM196 380h1v2h-1zM197 379h1v1h-1zM198 377h1v2h-1zM199 376h1v1h-1zM200 374h1v2h-1zM201 373h1v1h-1zM202 371h1v2h-1zM203 370h1v1h-1zM204 368h1v2h-1zM205 366h1v2h-1zM206 364h1v2h-1zM207 362h1v2h-1zM208 360h1v2h-1zM209 357h1v3h-1zM210 355h1v2h-1zM211 352h1v3h-1zM212 350h1v2h-1zM213 348h1v2h-1zM214 346h1v2h-1zM215 343h1v3h-1zM216 340h1v3h-1zM217 337h1v3h-1zM218 334h1v3h-1zM219 332h1v2h-1zM220 331h1v1h-1zM221 329h1v2h-1zM222 328h1v1h-1zM223 327h1v1h-1zM224 326h1v1h-1zM225 325h1v1h-1zM226 324h1v1h-1zM227 323h1v1h-1zM228 321h1v2h-1zM229 319h1v2h-1zM230 317h1v2h-1zM231 316h1v1h-1zM232 314h1v2h-1zM233 312h1v2h-1zM234 310h1v2h-1zM235 309h1v1h-1zM236 308h1v1h-1zM237 307h1v1h-1zM238 306h1v1h-1zM239 305h1v1h-1zM240 304h2v1h-2zM242 303h1v1h-1zM243 302h3v1h-3zM246 301h3v1h-3zM249 300h2v1h-2zM251 299h1v1h-1zM252 298h2v1h-2zM254 297h1v1h-1zM255 296h1v1h-1zM256 295h2v1h-2zM258 294h1v1h-1zM259 293h1v1h-1zM260 292h2v1h-2zM262 291h1v1h-1zM263 290h1v1h-1zM264 289h1v1h-1zM265 288h1v1h-1zM266 287h1v1h-1zM267 286h2v1h-2zM269 285h2v1h-2zM271 284h1v1h-1zM272 282h1v2h-1zM273 280h1v2h-1zM274 278h1v2h-1zM275 276h1v2h-1zM276 274h1v2h-1zM277 272h1v2h-1zM278 270h1v2h-1zM279 267h1v3h-1zM280 265h1v2h-1zM281 262h1v3h-1zM282 260h1v2h-1zM283 258h1v2h-1zM284 256h1v2h-1zM285 254h1v2h-1zM286 252h1v2h-1zM287 251h1v1h-1zM288 249h1v2h-1zM289 247h1v2h-1zM290 245h1v2h-1zM291 244h1v1h-1zM292 242h1v2h-1zM293 241h1v1h-1zM294 239h1v2h-1zM295 238h1v1h-1zM296 236h1v2h-1zM297 235h1v1h-1zM298 233h1v2h-1zM299 232h1v1h-1zM300 231h2v1h-2zM302 230h1v1h-1zM303 229h3v1h-3zM306 228h4v1h-4zM310 227h4v1h-4zM314 228h3v1h-3zM317 229h2v1h-2zM319 230h10v1h-10zM329 231h2v1h-2zM331 232h1v1h-1zM332 233h1v1h-1zM333 234h1v2h-1zM334 236h1v1h-1zM335 237h1v1h-1zM336 238h1v2h-1zM337 240h1v1h-1zM338 241h1v2h-1zM339 243h1v1h-1zM340 244h1v1h-1zM341 245h1v1h-1zM342 246h1v1h-1zM343 247h1v1h-1zM344 248h1v1h-1zM345 249h1v1h-1zM346 250h1v1h-1zM347 251h9v1h-9zM356 249h1v2h-1zM357 248h1v1h-1zM358 246h1v2h-1zM359 245h1v1h-1zM360 244h1v1h-1zM361 242h1v2h-1zM362 241h1v1h-1zM363 240h1v1h-1zM364 239h1v1h-1zM365 238h1v1h-1zM366 237h1v1h-1zM367 236h1v1h-1zM368 234h1v2h-1zM369 233h1v1h-1zM370 231h1v2h-1zM371 230h1v1h-1zM372 229h1v1h-1zM373 227h1v2h-1zM374 226h1v1h-1zM375 225h2v1h-2zM377 224h2v1h-2zM379 223h1v1h-1zM380 222h2v1h-2zM382 221h1v1h-1zM383 220h3v1h-3zM386 219h2v1h-2zM388 218h2v1h-2zM390 217h1v1h-1zM391 216h3v1h-3zM394 215h6v1h-6zM400 216h1v1h-1zM401 217h1v2h-1zM402 219h1v1h-1zM403 220h1v2h-1zM404 222h1v2h-1zM405 224h1v2h-1zM406 226h1v2h-1zM407 228h1v1h-1zM408 229h1v2h-1zM409 231h1v1h-1zM410 232h1v2h-1zM411 234h1v2h-1zM412 236h1v2h-1zM413 238h1v3h-1zM414 241h1v2h-1zM415 243h1v3h-1zM416 246h1v2h-1zM417 248h1v2h-1zM418 250h1v2h-1zM419 252h1v3h-1zM420 255h1v2h-1zM421 257h1v2h-1zM422 259h1v2h-1zM423 261h1v3h-1zM424 264h1v2h-1zM425 266h1v3h-1zM426 269h1v2h-1zM427 271h1v3h-1zM428 274h1v2h-1zM429 276h1v2h-1zM430 278h1v2h-1zM431 280h1v1h-1zM432 281h1v1h-1zM433 282h1v1h-1zM434 283h1v1h-1zM435 284h1v1h-1zM436 285h1v1h-1zM437 286h1v2h-1zM438 288h1v1h-1zM439 289h2v1h-2zM441 290h2v1h-2zM443 291h1v1h-1zM444 292h2v1h-2zM446 293h1v1h-1zM447 294h2v1h-2zM449 295h2v1h-2zM451 296h3v1h-3zM454 295h2v1h-2zM456 294h1v1h-1zM457 292h1v2h-1zM458 291h1v1h-1zM459 290h1v1h-1zM460 289h1v1h-1zM461 287h1v2h-1zM462 286h1v1h-1zM463 285h2v1h-2zM465 284h2v1h-2zM467 283h1v1h-1zM468 282h1v1h-1zM469 281h1v1h-1zM470 280h1v1h-1zM471 279h1v1h-1zM472 277h1v2h-1zM473 276h1v1h-1zM474 274h1v2h-1zM475 273h1v1h-1zM476 271h1v2h-1zM477 270h1v1h-1zM478 268h1v2h-1zM479 267h1v1h-1zM480 266h1v1h-1zM481 264h1v2h-1zM482 263h1v1h-1zM483 262h1v1h-1zM484 261h1v1h-1zM485 260h1v1h-1zM486 259h1v1h-1zM487 258h1v1h-1zM488 257h1v1h-1zM489 255h1v2h-1zM490 254h1v1h-1zM491 252h1v2h-1zM492 250h1v2h-1zM493 248h1v2h-1zM494 246h1v2h-1zM495 245h1v1h-1zM496 243h1v2h-1zM497 241h1v2h-1zM498 239h1v2h-1zM499 237h1v2h-1zM500 234h1v3h-1zM501 232h1v2h-1zM502 229h1v3h-1zM503 226h1v3h-1zM504 224h1v2h-1zM505 221h1v3h-1zM506 219h1v2h-1zM507 216h1v3h-1zM508 214h1v2h-1zM509 211h1v3h-1zM510 209h1v2h-1zM511 206h1v3h-1zM512 203h1v3h-1zM513 200h1v3h-1zM514 197h1v3h-1zM515 194h1v3h-1zM516 191h1v3h-1zM517 187h1v4h-1zM518 184h1v3h-1zM519 181h1v3h-1zM520 178h1v3h-1zM521 174h1v4h-1zM522 171h1v3h-1zM523 168h1v3h-1zM524 165h1v3h-1zM525 162h1v3h-1zM526 159h1v3h-1zM527 156h1v3h-1zM528 154h1v2h-1zM529 151h1v3h-1zM530 149h1v2h-1zM531 146h1v3h-1zM532 143h1v3h-1zM533 141h1v2h-1zM534 138h1v3h-1zM535 135h1v3h-1zM536 133h1v2h-1zM537 130h1v3h-1zM538 128h1v2h-1zM539 125h1v3h-1zM540 123h1v2h-1zM541 121h1v2h-1zM542 119h1v2h-1zM543 116h1v3h-1zM544 114h1v2h-1zM545 111h1v3h-1zM546 109h1v2h-1zM547 107h1v2h-1zM548 105h1v2h-1zM549 104h1v1h-1zM550 102h1v2h-1zM551 101h1v1h-1zM552 100h1v1h-1zM553 99h1v1h-1zM554 98h1v1h-1zM555 97h3v1h-3zM558 96h2v1h-2zM560 95h2v1h-2zM562 94h1v1h-1zM563 93h1v1h-1zM564 92h2v1h-2zM566 91h1v1h-1zM567 90h1v1h-1zM568 91h2v1h-2zM570 92h1v1h-1zM571 93h1v1h-1zM572 94h1v1h-1zM573 95h1v1h-1zM574 96h1v1h-1zM575 97h1v1h-1zM576 98h1v2h-1zM577 100h1v1h-1zM578 101h1v2h-1zM579 103h1v2h-1zM580 105h1v2h-1zM581 107h1v2h-1zM582 109h1v2h-1zM583 111h1v2h-1zM584 113h1v2h-1zM585 115h1v1h-1zM586 116h1v2h-1zM587 118h1v1h-1zM588 119h1v2h-1zM589 121h1v2h-1zM590 123h1v2h-1zM591 125h1v1h-1zM592 126h1v2h-1zM593 128h1v1h-1zM594 129h1v2h-1zM595 131h1v1h-1zM596 132h1v1h-1zM597 133h1v1h-1zM598 134h1v1h-1zM599 135h1v1h-1zM600 136h1v1h-1zM601 137h1v2h-1zM602 139h1v1h-1zM603 140h1v1h-1zM604 141h1v2h-1zM605 143h1v1h-1zM606 144h1v2h-1zM607 146h1v1h-1zM608 147h2v1h-2zM610 148h1v1h-1zM611 149h1v1h-1zM612 150h1v2h-1zM613 152h1v1h-1zM614 153h1v2h-1zM615 155h1v2h-1zM616 157h1v2h-1zM617 159h1v3h-1zM618 162h1v2h-1zM619 164h1v3h-1zM620 167h1v3h-1zM621 170h1v2h-1zM622 172h1v3h-1zM623 175h1v3h-1zM624 178h1v2h-1zM625 180h1v2h-1zM626 182h1v2h-1zM627 184h1v2h-1zM628 186h1v1h-1zM629 187h1v2h-1zM630 189h1v1h-1zM631 190h2v1h-2zM633 191h2v1h-2zM635 192h2v1h-2zM637 191h2v1h-2zM639 190h2v1h-2zM641 191h2v1h-2zM643 192h1v1h-1zM644 193h1v1h-1zM645 194h1v1h-1zM646 195h1v1h-1zM647 196h1v1h-1zM648 197h1v2h-1zM649 199h1v2h-1zM650 201h1v2h-1zM651 203h1v2h-1zM652 205h1v3h-1zM653 208h1v2h-1zM654 210h1v3h-1zM655 213h1v3h-1zM656 216h1v3h-1zM657 219h1v3h-1zM658 222h1v3h-1zM659 225h1v3h-1zM660 228h1v2h-1zM661 230h1v2h-1zM662 232h1v2h-1zM663 234h1v3h-1zM664 237h1v3h-1zM665 240h1v3h-1zM666 243h1v3h-1zM667 246h1v3h-1zM668 249h1v3h-1zM669 252h1v4h-1zM670 256h1v3h-1zM671 259h1v3h-1zM672 262h1v2h-1zM673 264h1v2h-1zM674 266h1v2h-1zM675 268h1v2h-1zM676 270h1v2h-1zM677 272h1v2h-1zM678 274h1v2h-1zM679 276h1v1h-1zM680 277h1v2h-1zM681 279h1v1h-1zM682 280h1v2h-1zM683 282h1v1h-1zM684 283h1v1h-1zM685 284h1v2h-1zM686 286h1v1h-1zM687 287h1v2h-1zM688 289h1v2h-1zM689 291h1v2h-1zM690 293h1v2h-1zM691 295h1v2h-1zM692 297h1v1h-1zM693 298h1v2h-1zM694 300h1v1h-1zM695 301h1v1h-1zM696 302h1v1h-1zM697 303h1v2h-1zM698 305h1v1h-1zM699 306h3v1h-3zM702 307h4v1h-4zM706 306h6v1h-6zM712 307h1v2h-1zM713 309h1v2h-1zM714 311h1v2h-1zM715 313h1v2h-1zM716 315h1v3h-1zM717 318h1v2h-1zM718 320h1v3h-1zM719 323h1v3h-1zM720 326h1v2h-1zM721 328h1v3h-1zM722 331h1v2h-1zM723 333h1v3h-1zM724 336h1v2h-1zM725 338h1v2h-1zM726 340h1v2h-1zM727 342h1v3h-1zM728 345h1v2h-1zM729 347h1v2h-1zM730 349h1v2h-1zM731 351h1v2h-1zM732 353h1v2h-1zM733 355h1v2h-1zM734 357h1v2h-1zM735 359h1v2h-1zM736 361h1v2h-1zM737 363h1v3h-1zM738 366h1v2h-1zM739 368h1v3h-1zM740 371h1v3h-1zM741 374h1v4h-1zM742 378h1v3h-1zM743 381h1v3h-1zM744 384h1v2h-1zM745 386h1v2h-1zM746 388h1v2h-1zM747 390h1v2h-1zM748 392h1v2h-1zM749 394h1v2h-1zM750 396h1v2h-1zM751 398h1v2h-1zM752 400h1v2h-1zM753 402h1v2h-1zM754 404h1v2h-1zM755 406h1v2h-1zM756 408h1v2h-1zM757 410h1v2h-1zM758 412h1v2h-1zM759 414h1v2h-1zM760 416h1v2h-1zM761 418h1v3h-1zM762 421h1v2h-1zM763 423h1v2h-1zM764 424h4v1h-4zM768 422h1v2h-1zM769 421h1v1h-1zM770 419h1v2h-1zM771 417h1v2h-1zM772 414h1v3h-1zM773 412h1v2h-1zM774 409h1v3h-1zM775 406h1v3h-1zM776 403h1v3h-1zM777 401h1v2h-1zM778 398h1v3h-1zM779 395h1v3h-1zM780 393h1v2h-1zM781 390h1v3h-1zM782 388h1v2h-1zM783 385h1v3h-1zM784 383h1v2h-1zM785 381h1v2h-1zM786 379h1v2h-1zM787 377h1v2h-1zM788 376h1v1h-1zM789 374h1v2h-1zM790 373h1v1h-1zM791 372h1v1h-1zM792 371h1v1h-1zM793 369h1v2h-1zM794 368h1v1h-1zM795 367h1v1h-1zM796 365h1v2h-1zM797 364h1v1h-1zM798 362h1v2h-1zM799 361h1v1h-1zM800 360h1v1h-1zM801 358h1v2h-1zM802 357h1v1h-1zM803 356h6v1h-6zM809 357h2v1h-2zM811 358h2v1h-2zM813 359h2v1h-2zM815 360h3v1h-3zM818 361h2v1h-2zM820 362h1v2h-1zM821 364h1v1h-1zM822 365h1v2h-1zM823 367h1v1h-1zM824 368h1v1h-1zM825 369h1v1h-1zM826 370h1v1h-1zM827 371h1v1h-1zM828 372h1v1h-1zM829 373h1v2h-1zM830 375h1v1h-1zM831 376h2v1h-2zM833 377h2v1h-2zM835 378h1v1h-1zM836 377h1v1h-1zM837 376h1v1h-1zM838 375h1v1h-1zM839 374h3v1h-3zM842 373h2v1h-2zM844 372h1v1h-1zM845 370h1v2h-1zM846 369h1v1h-1zM847 368h1v1h-1zM848 367h2v1h-2zM850 366h1v1h-1zM851 365h1v1h-1zM852 363h1v2h-1zM853 362h1v1h-1zM854 360h1v2h-1zM855 359h3v1h-3zM858 358h3v1h-3zM861 359h2v1h-2zM863 360h4v1h-4zM867 360h1v2h-1zM868 362h1v2h-1zM869 364h1v2h-1zM870 366h1v2h-1zM871 368h1v1h-1zM872 369h1v1h-1zM873 370h1v1h-1zM874 371h1v1h-1zM875 372h1v1h-1zM876 373h1v1h-1zM877 374h1v2h-1zM878 376h1v1h-1zM879 377h1v1h-1zM880 378h1v2h-1zM881 380h1v2h-1zM882 382h1v2h-1zM883 384h1v1h-1zM884 385h1v2h-1zM885 387h1v2h-1zM886 389h1v2h-1zM887 391h1v2h-1zM888 393h1v3h-1zM889 396h1v3h-1zM890 399h1v3h-1zM891 402h1v4h-1zM892 406h1v4h-1zM893 410h1v4h-1zM894 414h1v4h-1zM895 418h1v3h-1zM896 421h1v2h-1zM897 423h1v3h-1zM898 426h1v2h-1zM899 428h1v3h-1zM900 431h1v3h-1zM901 434h1v3h-1zM902 437h1v3h-1zM903 440h1v3h-1zM904 443h1v2h-1zM905 445h1v2h-1zM906 447h1v2h-1zM907 449h1v2h-1zM908 451h1v2h-1zM909 453h1v3h-1zM910 456h1v2h-1zM911 458h1v2h-1zM912 460h1v2h-1zM913 462h1v1h-1zM914 463h1v2h-1zM915 465h3v1h-3zM918 466h2v1h-2zM920 467h2v1h-2zM922 468h1v1h-1zM923 469h1v1h-1zM924 467h1v2h-1zM925 465h1v2h-1zM926 463h1v2h-1zM927 462h1v1h-1zM928 461h1v1h-1zM929 459h1v2h-1zM930 458h1v1h-1zM931 457h7v1h-7zM938 458h2v1h-2zM940 457h1v1h-1zM941 456h1v1h-1zM942 455h1v1h-1zM943 454h1v1h-1zM944 452h1v2h-1zM945 451h1v1h-1zM946 449h1v2h-1zM947 447h1v2h-1zM948 445h1v2h-1zM949 443h1v2h-1zM950 441h1v2h-1zM951 440h1v1h-1zM952 438h1v2h-1zM953 437h1v1h-1zM954 435h1v2h-1zM955 433h1v2h-1zM956 431h1v2h-1zM957 428h1v3h-1zM958 426h1v2h-1zM959 423h1v3h-1zM960 421h1v2h-1zM961 419h1v2h-1zM962 417h1v2h-1zM963 415h1v2h-1zM964 413h1v2h-1zM965 411h1v2h-1zM966 409h1v2h-1zM967 408h1v1h-1zM968 407h1v1h-1zM969 405h1v2h-1zM970 404h1v1h-1zM971 403h3v1h-3zM974 404h2v1h-2zM976 403h1v1h-1zM977 401h1v2h-1zM978 400h1v1h-1zM979 399h1v1h-1zM980 398h1v1h-1zM981 397h1v1h-1zM982 396h1v1h-1zM983 395h1v1h-1zM984 394h2v1h-2zM986 393h1v1h-1zM987 391h1v2h-1zM988 388h1v3h-1zM989 386h1v2h-1zM990 383h1v3h-1zM991 380h1v3h-1zM992 377h1v3h-1zM993 375h1v2h-1zM994 372h1v3h-1zM995 369h1v3h-1zM996 367h1v2h-1zM997 365h1v2h-1zM998 363h1v2h-1zM999 361h1v2h-1zM1000 359h1v2h-1zM1001 358h1v1h-1zM1002 356h1v2h-1zM1003 355h1v1h-1zM1004 353h1v2h-1zM1005 352h1v1h-1zM1006 350h1v2h-1zM1007 349h3v1h-3zM1010 348h4v1h-4zM1014 347h3v1h-3zM1017 346h2v1h-2zM1019 345h1v1h-1zM1020 344h1v1h-1zM1021 343h1v1h-1zM1022 342h1v1h-1zM1023 341h1v1h-1zM1024 340h1v1h-1zM1025 339h1v1h-1zM1026 338h1v1h-1zM1027 337h1v1h-1zM1028 335h1v2h-1zM1029 333h1v2h-1zM1030 331h1v2h-1zM1031 330h1v1h-1zM1032 329h2v1h-2zM1034 328h1v1h-1zM1035 327h3v1h-3zM1038 326h3v1h-3zM1041 327h2v1h-2zM1043 328h7v1h-7zM1050 327h3v1h-3zM1053 328h2v1h-2zM1055 329h5v1h-5zM1060 328h1v1h-1zM1061 327h1v1h-1zM1062 326h1v1h-1zM1063 325h1v1h-1zM1064 324h1v1h-1zM1065 323h1v1h-1zM1066 322h1v1h-1zM1067 321h2v1h-2zM1069 320h2v1h-2zM1071 319h1v1h-1zM1072 318h1v1h-1zM1073 317h1v1h-1zM1074 316h1v1h-1zM1075 315h2v1h-2zM1077 316h2v1h-2zM1079 317h3v1h-3zM1082 316h3v1h-3zM1085 315h2v1h-2zM1087 314h5v1h-5zM1092 313h2v1h-2zM1094 312h1v1h-1zM1095 311h1v1h-1zM1096 309h1v2h-1zM1097 308h1v1h-1zM1098 306h1v2h-1zM1099 305h1v1h-1zM1100 304h2v1h-2zM1102 303h1v1h-1zM1103 302h1v1h-1zM1104 301h2v1h-2zM1106 300h1v1h-1zM1107 299h1v1h-1zM1108 298h1v1h-1zM1109 296h1v2h-1zM1110 295h1v1h-1zM1111 294h1v1h-1zM1112 293h1v1h-1zM1113 291h1v2h-1zM1114 290h1v1h-1zM1115 289h2v1h-2zM1117 290h2v1h-2zM1119 291h1v1h-1zM1120 292h2v1h-2zM1122 293h1v1h-1zM1123 294h1v1h-1zM1124 295h1v2h-1zM1125 297h1v1h-1zM1126 298h1v2h-1zM1127 300h1v1h-1z" fill="#FF0000"/><path d="M3 286h1v1h-1zM4 287h1v1h-1zM5 288h1v1h-1zM6 289h1v1h-1zM7 290h2v1h-2zM9 291h2v1h-2zM11 292h1v1h-1zM12 290h1v2h-1zM13 288h1v2h-1zM14 286h1v2h-1zM15 285h3v1h-3zM18 286h3v1h-3zM21 285h2v1h-2zM23 284h1v1h-1zM24 282h1v2h-1zM25 281h1v1h-1zM26 279h1v2h-1zM27 278h3v1h-3zM30 277h4v1h-4zM34 276h4v1h-4zM38 277h3v1h-3zM41 278h2v1h-2zM43 279h4v1h-4zM47 279h1v2h-1zM48 281h1v2h-1zM49 283h1v2h-1zM50 285h1v2h-1zM51 287h1v3h-1zM52 290h1v3h-1zM53 293h1v3h-1zM54 296h1v3h-1zM55 299h1v3h-1zM56 302h1v3h-1zM57 305h1v2h-1zM58 307h1v3h-1zM59 310h1v2h-1zM60 312h1v2h-1zM61 314h1v1h-1zM62 315h1v2h-1zM63 317h1v1h-1zM64 318h1v1h-1zM65 319h1v2h-1zM66 321h1v1h-1zM67 322h1v1h-1zM68 323h1v1h-1zM69 324h1v1h-1zM70 325h1v1h-1zM71 326h1v1h-1zM72 324h1v2h-1zM73 323h1v1h-1zM74 321h1v2h-1zM75 319h1v2h-1zM76 317h1v2h-1zM77 314h1v3h-1zM78 312h1v2h-1zM79 310h1v2h-1zM80 309h2v1h-2zM82 308h1v1h-1zM83 307h1v1h-1zM84 306h1v1h-1zM85 305h1v1h-1zM86 304h1v1h-1zM87 303h3v1h-3zM90 302h2v1h-2zM92 303h1v2h-1zM93 305h1v2h-1zM94 307h1v2h-1zM95 309h3v1h-3zM98 308h2v1h-2zM100 309h1v2h-1zM101 311h1v1h-1zM102 312h1v2h-1zM103 314h1v2h-1zM104 316h1v4h-1zM105 320h1v3h-1zM106 323h1v4h-1zM107 327h1v2h-1zM108 329h1v2h-1zM109 331h1v2h-1zM110 333h1v2h-1zM111 335h2v1h-2zM113 334h2v1h-2zM115 333h1v2h-1zM116 335h1v2h-1zM117 337h1v2h-1zM118 339h1v2h-1zM119 341h2v1h-2zM121 342h2v1h-2zM123 343h1v2h-1zM124 345h1v4h-1zM125 349h1v3h-1zM126 352h1v4h-1zM127 356h1v3h-1zM128 359h1v4h-1zM129 363h1v4h-1zM130 367h1v4h-1zM131 371h1v2h-1zM132 373h1v1h-1zM133 374h1v2h-1zM134 376h1v1h-1zM135 377h1v1h-1zM136 376h2v1h-2zM138 375h1v1h-1zM139 374h1v2h-1zM140 376h1v2h-1zM141 378h1v2h-1zM142 380h1v2h-1zM143 382h1v2h-1zM144 383h2v1h-2zM146 384h6v1h-6zM152 385h1v1h-1zM153 386h1v2h-1zM154 388h1v1h-1zM155 389h4v1h-4zM159 389h1v2h-1zM160 391h1v3h-1zM161 394h1v2h-1zM162 396h1v3h-1zM163 399h1v2h-1zM164 401h1v2h-1zM165 403h1v1h-1zM166 404h1v2h-1zM167 406h1v1h-1zM168 407h2v1h-2zM170 408h1v1h-1zM171 409h1v1h-1zM172 410h2v1h-2zM174 411h1v1h-1zM175 412h1v1h-1zM176 413h1v1h-1zM177 414h1v2h-1zM178 416h1v1h-1zM179 416h1v2h-1zM180 414h1v2h-1zM181 411h1v3h-1zM182 409h1v2h-1zM183 406h1v3h-1zM184 403h1v3h-1zM185 401h1v2h-1zM186 398h1v3h-1zM187 393h1v5h-1zM188 387h1v6h-1zM189 381h1v6h-1zM190 375h1v6h-1zM191 370h1v5h-1zM192 367h1v3h-1zM193 363h1v4h-1zM194 360h1v3h-1zM195 357h1v3h-1zM196 353h1v4h-1zM197 350h1v3h-1zM198 346h1v4h-1zM199 342h1v4h-1zM200 338h1v4h-1zM201 334h1v4h-1zM202 330h1v4h-1zM203 325h1v5h-1zM204 320h1v5h-1zM205 316h1v4h-1zM206 311h1v5h-1zM207 307h1v4h-1zM208 305h1v2h-1zM209 303h1v2h-1zM210 301h1v2h-1zM211 299h1v2h-1zM212 297h1v2h-1zM213 296h1v1h-1zM214 294h1v2h-1zM215 293h3v1h-3zM218 294h2v1h-2zM220 295h2v1h-2zM222 296h1v1h-1zM223 297h1v1h-1zM224 298h1v1h-1zM225 299h1v2h-1zM226 301h1v1h-1zM227 302h1v1h-1zM228 303h1v1h-1zM229 304h1v1h-1zM230 305h1v1h-1zM231 306h1v1h-1zM232 307h1v1h-1zM233 308h1v1h-1zM234 309h1v1h-1zM235 310h9v1h-9zM244 309h2v1h-2zM246 308h1v1h-1zM247 307h1v1h-1zM248 305h1v2h-1zM249 303h1v2h-1zM250 301h1v2h-1zM251 299h1v2h-1zM252 297h1v2h-1zM253 294h1v3h-1zM254 292h1v2h-1zM255 289h1v3h-1zM256 287h1v2h-1zM257 284h1v3h-1zM258 282h1v2h-1zM259 279h1v3h-1zM260 277h1v2h-1zM261 274h1v3h-1zM262 272h1v2h-1zM263 269h1v3h-1zM264 267h1v2h-1zM265 265h1v2h-1zM266 263h1v2h-1zM267 262h1v1h-1zM268 261h1v1h-1zM269 259h1v2h-1zM270 258h1v1h-1zM271 256h1v2h-1zM272 254h1v2h-1zM273 251h1v3h-1zM274 249h1v2h-1zM275 246h1v3h-1zM276 244h1v2h-1zM277 241h1v3h-1zM278 239h1v2h-1zM279 236h1v3h-1zM280 233h1v3h-1zM281 230h1v3h-1zM282 227h1v3h-1zM283 225h1v2h-1zM284 224h2v1h-2zM286 223h1v1h-1zM287 222h1v1h-1zM288 221h2v1h-2zM290 220h1v1h-1zM291 219h1v1h-1zM292 218h1v1h-1zM293 216h1v2h-1zM294 215h1v1h-1zM295 214h1v1h-1zM296 212h1v2h-1zM297 210h1v2h-1zM298 208h1v2h-1zM299 207h1v1h-1zM300 208h1v1h-1zM301 209h1v1h-1zM302 210h1v1h-1zM303 211h1v2h-1zM304 213h1v2h-1zM305 215h1v2h-1zM306 217h1v2h-1zM307 219h1v2h-1zM308 221h1v2h-1zM309 223h1v2h-1zM310 225h1v2h-1zM311 227h1v2h-1zM312 229h1v2h-1zM313 231h1v2h-1zM314 233h1v2h-1zM315 235h1v1h-1zM316 236h1v2h-1zM317 238h1v1h-1zM318 239h1v2h-1zM319 241h1v1h-1zM320 242h1v1h-1zM321 243h1v2h-1zM322 245h1v1h-1zM323 246h1v1h-1zM324 247h1v2h-1zM325 249h1v1h-1zM326 250h1v2h-1zM327 252h3v1h-3zM330 253h2v1h-2zM332 254h2v1h-2zM334 255h1v1h-1zM335 256h2v1h-2zM337 257h2v1h-2zM339 258h2v1h-2zM341 259h2v1h-2zM343 260h3v1h-3zM346 261h2v1h-2zM348 259h1v2h-1zM349 258h1v1h-1zM350 256h1v2h-1zM351 255h1v1h-1zM352 254h1v1h-1zM353 252h1v2h-1zM354 251h1v1h-1zM355 249h1v2h-1zM356 246h1v3h-1zM357 242h1v4h-1zM358 239h1v3h-1zM359 236h1v3h-1zM360 233h1v3h-1zM361 230h1v3h-1zM362 227h1v3h-1zM363 224h1v3h-1zM364 221h1v3h-1zM365 219h1v2h-1zM366 216h1v3h-1zM367 213h1v3h-1zM368 209h1v4h-1zM369 205h1v4h-1zM370 201h1v4h-1zM371 198h1v3h-1zM372 196h1v2h-1zM373 193h1v3h-1zM374 191h1v2h-1zM375 189h1v2h-1zM376 189h2v1h-2zM378 190h4v1h-4zM382 191h1v1h-1zM383 191h1v2h-1zM384 193h1v2h-1zM385 195h1v3h-1zM386 198h1v2h-1zM387 200h1v2h-1zM388 202h1v2h-1zM389 204h1v1h-1zM390 205h1v2h-1zM391 207h1v2h-1zM392 209h1v2h-1zM393 211h1v2h-1zM394 213h1v2h-1zM395 215h1v3h-1zM396 218h1v4h-1zM397 222h1v3h-1zM398 225h1v4h-1zM399 229h1v4h-1zM400 233h1v5h-1zM401 238h1v6h-1zM402 244h1v5h-1zM403 249h1v4h-1zM404 253h1v4h-1zM405 257h1v3h-1zM406 260h1v4h-1zM407 264h1v3h-1zM408 267h1v3h-1zM409 270h1v2h-1zM410 272h1v3h-1zM411 275h1v3h-1zM412 278h1v3h-1zM413 281h1v2h-1zM414 283h1v3h-1zM415 286h1v3h-1zM416 289h1v3h-1zM417 292h1v3h-1zM418 295h1v3h-1zM419 298h1v3h-1zM420 301h1v2h-1zM421 303h1v2h-1zM422 305h1v2h-1zM423 307h1v2h-1zM424 309h1v1h-1zM425 310h1v2h-1zM426 312h1v1h-1zM427 313h1v1h-1zM428 312h1v1h-1zM429 310h1v2h-1zM430 309h1v1h-1zM431 308h1v1h-1zM432 307h1v1h-1zM433 305h1v2h-1zM434 304h1v1h-1zM435 303h3v1h-3zM438 302h2v1h-2zM440 300h1v2h-1zM441 299h1v1h-1zM442 297h1v2h-1zM443 296h1v1h-1zM444 294h1v2h-1zM445 292h1v2h-1zM446 290h1v2h-1zM447 289h1v1h-1zM448 288h1v1h-1zM449 286h1v2h-1zM450 285h1v1h-1zM451 284h1v1h-1zM452 282h1v2h-1zM453 281h1v1h-1zM454 279h1v2h-1zM455 278h1v1h-1zM456 276h1v2h-1zM457 275h1v1h-1zM458 273h1v2h-1zM459 272h1v1h-1zM460 271h1v1h-1zM461 269h1v2h-1zM462 268h1v1h-1zM463 267h1v1h-1zM464 266h1v1h-1zM465 265h1v1h-1zM466 264h1v1h-1zM467 263h3v1h-3zM470 262h2v1h-2zM472 261h1v1h-1zM473 259h1v2h-1zM474 258h1v1h-1zM475 257h1v1h-1zM476 255h1v2h-1zM477 253h1v2h-1zM478 251h1v2h-1zM479 250h1v1h-1zM480 249h1v1h-1zM481 248h1v1h-1zM482 247h1v1h-1zM483 246h1v1h-1zM484 245h2v1h-2zM486 244h1v1h-1zM487 243h1v1h-1zM488 242h1v1h-1zM489 241h1v1h-1zM490 240h1v1h-1zM491 238h1v2h-1zM492 235h1v3h-1zM493 233h1v2h-1zM494 230h1v3h-1zM495 227h1v3h-1zM496 223h1v4h-1zM497 220h1v3h-1zM498 216h1v4h-1zM499 212h1v4h-1zM500 208h1v4h-1zM501 204h1v4h-1zM502 200h1v4h-1zM503 197h1v3h-1zM504 193h1v4h-1zM505 190h1v3h-1zM506 186h1v4h-1zM507 182h1v4h-1zM508 178h1v4h-1zM509 174h1v4h-1zM510 170h1v4h-1zM511 166h1v4h-1zM512 160h1v6h-1zM513 155h1v5h-1zM514 149h1v6h-1zM515 144h1v5h-1zM516 139h1v5h-1zM517 134h1v5h-1zM518 129h1v5h-1zM519 125h1v4h-1zM520 121h1v4h-1zM521 117h1v4h-1zM522 113h1v4h-1zM523 110h1v3h-1zM524 107h1v3h-1zM525 105h1v2h-1zM526 102h1v3h-1zM527 100h1v2h-1zM528 99h1v1h-1zM529 97h1v2h-1zM530 96h1v1h-1zM531 95h1v1h-1zM532 93h1v2h-1zM533 92h1v1h-1zM534 90h1v2h-1zM535 89h1v1h-1zM536 88h1v1h-1zM537 86h1v2h-1zM538 85h1v1h-1zM539 84h1v1h-1zM540 85h2v1h-2zM542 86h1v1h-1zM543 87h3v1h-3zM546 88h2v1h-2zM548 89h2v1h-2zM550 90h1v1h-1zM551 91h1v1h-1zM552 92h2v1h-2zM554 93h1v1h-1zM555 94h1v1h-1zM556 95h2v1h-2zM558 96h1v1h-1zM559 97h6v1h-6zM565 96h2v1h-2zM567 95h1v1h-1zM568 96h2v1h-2zM570 97h1v1h-1zM571 98h1v2h-1zM572 100h1v2h-1zM573 102h1v2h-1zM574 104h1v2h-1zM575 106h1v3h-1zM576 109h1v2h-1zM577 111h1v2h-1zM578 113h1v2h-1zM579 115h1v2h-1zM580 117h1v4h-1zM581 121h1v3h-1zM582 124h1v4h-1zM583 128h1v3h-1zM584 131h1v3h-1zM585 134h1v2h-1zM586 136h1v3h-1zM587 139h1v3h-1zM588 142h1v4h-1zM589 146h1v3h-1zM590 149h1v4h-1zM591 153h1v3h-1zM592 156h1v3h-1zM593 159h1v4h-1zM594 163h1v3h-1zM595 166h1v2h-1zM596 168h1v1h-1zM597 169h1v2h-1zM598 171h1v1h-1zM599 172h2v1h-2zM601 173h2v1h-2zM603 174h1v1h-1zM604 175h2v1h-2zM606 176h1v1h-1zM607 177h1v1h-1zM608 175h1v2h-1zM609 173h1v2h-1zM610 171h1v2h-1zM611 170h3v1h-3zM614 169h2v1h-2zM616 170h1v2h-1zM617 172h1v2h-1zM618 174h1v2h-1zM619 176h1v2h-1zM620 178h1v2h-1zM621 180h1v3h-1zM622 183h1v2h-1zM623 185h1v3h-1zM624 188h1v3h-1zM625 191h1v3h-1zM626 194h1v3h-1zM627 197h1v3h-1zM628 200h1v2h-1zM629 202h1v2h-1zM630 204h1v2h-1zM631 206h2v1h-2zM633 207h2v1h-2zM635 208h1v1h-1zM636 209h2v1h-2zM638 210h1v1h-1zM639 211h1v1h-1zM640 212h2v1h-2zM642 213h1v1h-1zM643 214h1v1h-1zM644 215h2v1h-2zM646 216h1v1h-1zM647 217h2v1h-2zM649 218h2v1h-2zM651 219h1v2h-1zM652 221h1v3h-1zM653 224h1v3h-1zM654 227h1v3h-1zM655 230h1v3h-1zM656 233h1v4h-1zM657 237h1v3h-1zM658 240h1v4h-1zM659 244h1v4h-1zM660 248h1v4h-1zM661 252h1v4h-1zM662 256h1v4h-1zM663 260h1v4h-1zM664 264h1v5h-1zM665 269h1v6h-1zM666 275h1v5h-1zM667 280h1v6h-1zM668 286h1v6h-1zM669 292h1v6h-1zM670 298h1v6h-1zM671 304h1v5h-1zM672 309h1v3h-1zM673 312h1v4h-1zM674 316h1v3h-1zM675 319h1v3h-1zM676 322h1v3h-1zM677 325h1v3h-1zM678 328h1v3h-1zM679 331h1v2h-1zM680 332h4v1h-4zM684 331h2v1h-2zM686 330h1v1h-1zM687 329h3v1h-3zM690 330h1v1h-1zM691 329h1v2h-1zM692 327h1v2h-1zM693 324h1v3h-1zM694 322h1v2h-1zM695 319h1v3h-1zM696 315h1v4h-1zM697 312h1v3h-1zM698 308h1v4h-1zM699 305h1v3h-1zM700 302h1v3h-1zM701 300h1v2h-1zM702 297h1v3h-1zM703 294h1v3h-1zM704 290h1v4h-1zM705 287h1v3h-1zM706 283h1v4h-1zM707 281h1v2h-1zM708 281h2v1h-2zM710 280h1v1h-1zM711 280h1v3h-1zM712 283h1v4h-1zM713 287h1v5h-1zM714 292h1v4h-1zM715 296h1v5h-1zM716 301h1v5h-1zM717 306h1v5h-1zM718 311h1v5h-1zM719 316h1v6h-1zM720 322h1v7h-1zM721 329h1v8h-1zM722 337h1v7h-1zM723 344h1v8h-1zM724 352h1v8h-1zM725 360h1v8h-1zM726 368h1v8h-1zM727 376h1v8h-1zM728 384h1v7h-1zM729 391h1v8h-1zM730 399h1v7h-1zM731 406h1v7h-1zM732 413h1v7h-1zM733 420h1v8h-1zM734 428h1v7h-1zM735 435h1v6h-1zM736 441h1v5h-1zM737 446h1v5h-1zM738 451h1v5h-1zM739 456h1v4h-1zM740 460h1v2h-1zM741 462h1v2h-1zM742 464h1v2h-1zM743 466h1v1h-1zM744 465h2v1h-2zM746 464h1v1h-1zM747 462h1v2h-1zM748 458h1v4h-1zM749 454h1v4h-1zM750 450h1v4h-1zM751 446h1v4h-1zM752 442h1v4h-1zM753 438h1v4h-1zM754 434h1v4h-1zM755 431h1v3h-1zM756 428h1v3h-1zM757 424h1v4h-1zM758 421h1v3h-1zM759 418h1v3h-1zM760 416h1v2h-1zM761 414h1v2h-1zM762 412h1v2h-1zM763 408h1v4h-1zM764 403h1v5h-1zM765 398h1v5h-1zM766 393h1v5h-1zM767 388h1v5h-1zM768 383h1v5h-1zM769 378h1v5h-1zM770 373h1v5h-1zM771 368h1v5h-1zM772 364h1v4h-1zM773 359h1v5h-1zM774 355h1v4h-1zM775 351h1v4h-1zM776 349h1v2h-1zM777 347h1v2h-1zM778 345h1v2h-1zM779 344h1v1h-1zM780 343h2v1h-2zM782 342h1v1h-1zM783 341h1v1h-1zM784 339h1v2h-1zM785 338h1v1h-1zM786 336h1v2h-1zM787 335h4v1h-4zM791 335h1v2h-1zM792 337h1v2h-1zM793 339h1v2h-1zM794 341h1v2h-1zM795 343h1v3h-1zM796 346h1v2h-1zM797 348h1v2h-1zM798 350h1v2h-1zM799 352h1v2h-1zM800 354h1v2h-1zM801 356h1v2h-1zM802 358h1v2h-1zM803 360h1v2h-1zM804 362h1v2h-1zM805 364h1v2h-1zM806 366h1v2h-1zM807 368h1v2h-1zM808 370h1v2h-1zM809 372h1v1h-1zM810 373h1v2h-1zM811 375h1v2h-1zM812 377h1v2h-1zM813 379h1v3h-1zM814 382h1v2h-1zM815 384h1v2h-1zM816 385h1v1h-1zM817 386h2v1h-2zM819 387h2v1h-2zM821 388h2v1h-2zM823 389h3v1h-3zM826 388h2v1h-2zM828 389h1v1h-1zM829 390h1v2h-1zM830 392h1v1h-1zM831 393h1v1h-1zM832 392h1v1h-1zM833 390h1v2h-1zM834 389h1v1h-1zM835 387h1v2h-1zM836 383h1v4h-1zM837 379h1v4h-1zM838 375h1v4h-1zM839 372h1v3h-1zM840 369h1v3h-1zM841 365h1v4h-1zM842 362h1v3h-1zM843 359h1v3h-1zM844 356h1v3h-1zM845 354h1v2h-1zM846 351h1v3h-1zM847 348h1v3h-1zM848 346h1v2h-1zM849 344h1v2h-1zM850 342h1v2h-1zM851 339h1v3h-1zM852 336h1v3h-1zM853 334h1v2h-1zM854 331h1v3h-1zM855 329h1v2h-1zM856 327h1v2h-1zM857 326h1v1h-1zM858 324h1v2h-1zM859 323h1v2h-1zM860 325h1v2h-1zM861 327h1v3h-1zM862 330h1v2h-1zM863 332h1v3h-1zM864 335h1v4h-1zM865 339h1v3h-1zM866 342h1v4h-1zM867 346h1v5h-1zM868 351h1v7h-1zM869 358h1v7h-1zM870 365h1v7h-1zM871 372h1v6h-1zM872 378h1v5h-1zM873 383h1v5h-1zM874 388h1v5h-1zM875 393h1v5h-1zM876 398h1v5h-1zM877 403h1v4h-1zM878 407h1v5h-1zM879 412h1v6h-1zM880 418h1v6h-1zM881 424h1v6h-1zM882 430h1v6h-1zM883 436h1v5h-1zM884 441h1v6h-1zM885 447h1v5h-1zM886 452h1v6h-1zM887 458h1v4h-1zM888 462h1v4h-1zM889 466h1v3h-1zM890 469h1v4h-1zM891 473h1v4h-1zM892 477h1v4h-1zM893 481h1v4h-1zM894 485h1v4h-1zM895 489h1v2h-1zM896 488h1v2h-1zM897 487h1v1h-1zM898 485h1v2h-1zM899 484h2v1h-2zM901 485h2v1h-2zM903 486h2v1h-2zM905 485h2v1h-2zM907 484h1v1h-1zM908 483h1v1h-1zM909 481h1v2h-1zM910 480h1v1h-1zM911 478h1v2h-1zM912 476h1v2h-1zM913 474h1v2h-1zM914 472h1v2h-1zM915 469h1v3h-1zM916 466h1v3h-1zM917 463h1v3h-1zM918 460h1v3h-1zM919 457h1v3h-1zM920 454h1v3h-1zM921 452h1v2h-1zM922 449h1v3h-1zM923 447h1v2h-1zM924 445h1v2h-1zM925 443h1v2h-1zM926 441h1v2h-1zM927 439h1v2h-1zM928 436h1v3h-1zM929 433h1v3h-1zM930 430h1v3h-1zM931 428h1v2h-1zM932 428h1v1h-1zM933 429h2v1h-2zM935 430h1v1h-1zM936 431h1v2h-1zM937 433h1v2h-1zM938 435h1v2h-1zM939 437h7v1h-7zM946 438h2v1h-2zM948 437h1v1h-1zM949 435h1v2h-1zM950 434h1v1h-1zM951 433h1v1h-1zM952 432h1v1h-1zM953 431h1v1h-1zM954 430h1v1h-1zM955 428h1v2h-1zM956 426h1v2h-1zM957 424h1v2h-1zM958 422h1v2h-1zM959 418h1v4h-1zM960 413h1v5h-1zM961 409h1v4h-1zM962 404h1v5h-1zM963 399h1v5h-1zM964 393h1v6h-1zM965 388h1v5h-1zM966 382h1v6h-1zM967 378h1v4h-1zM968 376h1v2h-1zM969 374h1v2h-1zM970 372h1v2h-1zM971 370h1v2h-1zM972 370h4v1h-4zM976 368h1v2h-1zM977 367h1v1h-1zM978 365h1v2h-1zM979 364h2v1h-2zM981 363h2v1h-2zM983 362h1v1h-1zM984 363h2v1h-2zM986 364h1v1h-1zM987 365h1v1h-1zM988 364h1v1h-1zM989 363h1v1h-1zM990 362h1v1h-1zM991 361h3v1h-3zM994 360h1v1h-1zM995 359h1v2h-1zM996 357h1v2h-1zM997 355h1v2h-1zM998 353h1v2h-1zM999 351h1v2h-1zM1000 348h1v3h-1zM1001 345h1v3h-1zM1002 342h1v3h-1zM1003 340h1v2h-1zM1004 338h1v2h-1zM1005 337h1v1h-1zM1006 335h1v2h-1zM1007 334h3v1h-3zM1010 335h2v1h-2zM1012 333h1v2h-1zM1013 332h1v1h-1zM1014 330h1v2h-1zM1015 329h5v1h-5zM1020 327h1v2h-1zM1021 325h1v2h-1zM1022 323h1v2h-1zM1023 322h3v1h-3zM1026 323h3v1h-3zM1029 322h2v1h-2zM1031 321h5v1h-5zM1036 320h2v1h-2zM1038 319h1v1h-1zM1039 318h1v2h-1zM1040 320h1v2h-1zM1041 322h1v2h-1zM1042 324h1v2h-1zM1043 326h2v1h-2zM1045 327h2v1h-2zM1047 328h1v1h-1zM1048 329h1v1h-1zM1049 330h1v1h-1zM1050 331h1v1h-1zM1051 332h1v1h-1zM1052 333h2v1h-2zM1054 334h1v1h-1zM1055 335h3v1h-3zM1058 336h1v1h-1zM1059 335h1v2h-1zM1060 333h1v2h-1zM1061 331h1v2h-1zM1062 329h1v2h-1zM1063 328h1v1h-1zM1064 327h2v1h-2zM1066 326h1v1h-1zM1067 324h1v2h-1zM1068 320h1v4h-1zM1069 317h1v3h-1zM1070 313h1v4h-1zM1071 310h1v3h-1zM1072 308h1v2h-1zM1073 306h1v2h-1zM1074 304h1v2h-1zM1075 303h3v1h-3zM1078 302h2v1h-2zM1080 301h1v1h-1zM1081 299h1v2h-1zM1082 298h1v1h-1zM1083 297h1v1h-1zM1084 296h1v1h-1zM1085 295h1v1h-1zM1086 294h1v1h-1zM1087 293h1v1h-1zM1088 294h1v2h-1zM1089 296h1v1h-1zM1090 297h1v2h-1zM1091 299h3v1h-3zM1094 298h4v1h-4zM1098 299h4v1h-4zM1102 300h2v1h-2zM1104 299h1v1h-1zM1105 297h1v2h-1zM1106 296h1v1h-1zM1107 295h1v1h-1zM1108 294h1v1h-1zM1109 293h1v1h-1zM1110 292h1v1h-1zM1111 291h1v1h-1zM1112 290h1v1h-1zM1113 288h1v2h-1zM1114 287h1v1h-1zM1115 286h2v1h-2zM1117 285h2v1h-2zM1119 284h1v1h-1zM1120 285h1v2h-1zM1121 287h1v2h-1zM1122 289h1v2h-1zM1123 291h1v2h-1zM1124 293h1v2h-1zM1125 295h1v3h-1zM1126 298h1v2h-1zM1127 300h1v2h-1z" fill="#0000C8"/></g><path d="M1129 23h9v1h-1v1h-1v1h-1v1h-1v1h-1v-1h-1v-1h-1v-1h-1v-1h-1z" fill="#C0C0C0"/><rect x="2" y="94" width="7" height="7" fill="#FF0000"/><rect x="5" y="97" width="1" height="1" fill="#fff"/><rect x="1412" y="94" width="7" height="7" fill="#FF0000"/><rect x="1415" y="97" width="1" height="1" fill="#fff"/><rect x="2" y="198" width="7" height="7" fill="#FF0000"/><rect x="5" y="201" width="1" height="1" fill="#fff"/><rect x="1412" y="198" width="7" height="7" fill="#FF0000"/><rect x="1415" y="201" width="1" height="1" fill="#fff"/><rect x="2" y="293" width="7" height="7" fill="#00FF00"/><rect x="5" y="296" width="1" height="1" fill="#fff"/><rect x="1412" y="293" width="7" height="7" fill="#00FF00"/><rect x="1415" y="296" width="1" height="1" fill="#fff"/><rect x="2" y="422" width="7" height="7" fill="#0000FF"/><rect x="5" y="425" width="1" height="1" fill="#fff"/><rect x="1412" y="422" width="7" height="7" fill="#0000FF"/><rect x="1415" y="425" width="1" height="1" fill="#fff"/><g clip-path="url(#c2)"><path d="M3 610h1v2h-1zM7 610h1v3h-1zM11 610h1v3h-1zM15 610h1v3h-1zM19 610h1v6h-1zM23 610h1v6h-1zM27 610h1v5h-1zM31 610h1v4h-1zM35 610h1v4h-1zM39 610h1v4h-1zM43 610h1v4h-1zM47 610h1v6h-1zM51 610h1v10h-1zM55 610h1v13h-1zM59 610h1v15h-1zM63 610h1v14h-1zM67 610h1v14h-1zM71 610h1v13h-1zM75 610h1v10h-1zM79 610h1v7h-1zM83 610h1v8h-1zM87 610h1v9h-1zM91 610h1v8h-1zM95 610h1v12h-1zM99 610h1v10h-1zM103 610h1v9h-1zM107 610h1v12h-1zM111 610h1v15h-1zM115 610h1v12h-1zM119 610h1v14h-1zM123 610h1v16h-1zM127 610h1v19h-1zM131 610h1v22h-1zM135 610h1v24h-1zM139 610h1v21h-1zM143 610h1v19h-1zM147 610h1v18h-1zM151 610h1v18h-1zM155 610h1v21h-1zM159 610h1v22h-1zM163 610h1v27h-1zM167 610h1v25h-1zM171 610h1v22h-1zM175 610h1v20h-1zM179 610h1v20h-1zM183 610h1v16h-1zM187 610h1v12h-1zM191 610h1v5h-1zM195 610h1v1h-1zM199 605h1v5h-1zM203 601h1v9h-1zM207 598h1v12h-1zM211 597h1v13h-1zM215 596h1v14h-1zM219 596h1v14h-1zM223 597h1v13h-1zM227 599h1v11h-1zM231 598h1v12h-1zM235 598h1v12h-1zM239 598h1v12h-1zM243 598h1v12h-1zM247 598h1v12h-1zM251 596h1v14h-1zM255 594h1v16h-1zM259 591h1v19h-1zM263 589h1v21h-1zM267 589h1v21h-1zM271 590h1v20h-1zM275 587h1v23h-1zM279 585h1v25h-1zM283 582h1v28h-1zM287 582h1v28h-1zM291 582h1v28h-1zM295 583h1v27h-1zM299 584h1v26h-1zM303 587h1v23h-1zM307 590h1v20h-1zM311 592h1v18h-1zM315 595h1v15h-1zM319 597h1v13h-1zM323 599h1v11h-1zM327 601h1v9h-1zM331 601h1v9h-1zM335 604h1v6h-1zM339 605h1v5h-1zM343 607h1v3h-1zM347 607h1v3h-1zM351 605h1v5h-1zM355 603h1v7h-1zM359 598h1v12h-1zM363 596h1v14h-1zM367 595h1v15h-1zM371 592h1v18h-1zM375 592h1v18h-1zM379 594h1v16h-1zM383 596h1v14h-1zM387 599h1v11h-1zM391 601h1v9h-1zM395 603h1v7h-1zM399 607h1v3h-1zM403 610h1v4h-1zM407 610h1v9h-1zM411 610h1v11h-1zM415 610h1v13h-1zM419 610h1v15h-1zM423 610h1v16h-1zM427 610h1v16h-1zM431 610h1v16h-1zM435 610h1v15h-1zM439 610h1v14h-1zM443 610h1v11h-1zM447 610h1v10h-1zM451 610h1v9h-1zM455 610h1v6h-1zM459 610h1v4h-1zM463 610h1v3h-1zM467 610h1v2h-1zM471 610h1v1h-1zM475 609h1v1h-1zM479 607h1v3h-1zM483 605h1v5h-1zM487 604h1v6h-1zM491 603h1v7h-1zM495 599h1v11h-1zM499 595h1v15h-1zM503 589h1v21h-1zM507 585h1v25h-1zM511 582h1v28h-1zM515 577h1v33h-1zM519 574h1v36h-1zM523 571h1v39h-1zM527 571h1v39h-1zM531 570h1v40h-1zM535 570h1v40h-1zM539 571h1v39h-1zM543 573h1v37h-1zM547 574h1v36h-1zM551 576h1v34h-1zM555 579h1v31h-1zM559 581h1v29h-1zM563 581h1v29h-1zM567 582h1v28h-1zM571 585h1v25h-1zM575 590h1v20h-1zM579 595h1v15h-1zM583 602h1v8h-1zM587 606h1v4h-1zM591 609h1v1h-1zM595 610h1v1h-1zM599 610h1v1h-1zM603 610h1v2h-1zM607 610h1v3h-1zM611 610h1v3h-1zM615 610h1v4h-1zM619 610h1v9h-1zM623 610h1v13h-1zM627 610h1v15h-1zM631 610h1v16h-1zM635 610h1v15h-1zM639 610h1v13h-1zM643 610h1v12h-1zM647 610h1v15h-1zM651 610h1v18h-1zM655 610h1v24h-1zM659 610h1v28h-1zM663 610h1v30h-1zM667 610h1v33h-1zM671 610h1v38h-1zM675 610h1v39h-1zM679 610h1v40h-1zM683 610h1v38h-1zM687 610h1v35h-1zM691 610h1v33h-1zM695 610h1v28h-1zM699 610h1v24h-1zM703 610h1v21h-1zM707 610h1v16h-1zM711 610h1v18h-1zM715 610h1v25h-1zM719 610h1v33h-1zM723 610h1v40h-1zM727 610h1v46h-1zM731 610h1v49h-1zM735 610h1v50h-1zM739 610h1v50h-1zM743 610h1v51h-1zM747 610h1v48h-1zM751 610h1v41h-1zM755 610h1v36h-1zM759 610h1v31h-1zM763 610h1v28h-1zM767 610h1v21h-1zM771 610h1v15h-1zM775 610h1v9h-1zM779 610h1v5h-1zM783 610h1v4h-1zM787 610h1v3h-1zM791 610h1v5h-1zM795 610h1v6h-1zM799 610h1v7h-1zM803 610h1v6h-1zM807 610h1v6h-1zM811 610h1v8h-1zM815 610h1v9h-1zM819 610h1v10h-1zM823 610h1v11h-1zM827 610h1v10h-1zM831 610h1v9h-1zM835 610h1v5h-1zM839 610h1v1h-1zM843 606h1v4h-1zM847 605h1v5h-1zM851 604h1v6h-1zM855 602h1v8h-1zM859 602h1v8h-1zM863 607h1v3h-1zM867 610h1v1h-1zM871 610h1v10h-1zM875 610h1v15h-1zM879 610h1v19h-1zM883 610h1v22h-1zM887 610h1v26h-1zM891 610h1v28h-1zM895 610h1v32h-1zM899 610h1v30h-1zM903 610h1v29h-1zM907 610h1v27h-1zM911 610h1v24h-1zM915 610h1v21h-1zM919 610h1v17h-1zM923 610h1v15h-1zM927 610h1v12h-1zM931 610h1v8h-1zM935 610h1v10h-1zM939 610h1v13h-1zM943 610h1v11h-1zM947 610h1v8h-1zM951 610h1v6h-1zM955 610h1v1h-1zM959 605h1v5h-1zM963 601h1v9h-1zM967 597h1v13h-1zM971 596h1v14h-1zM975 599h1v11h-1zM979 599h1v11h-1zM983 598h1v12h-1zM987 597h1v13h-1zM991 593h1v17h-1zM995 592h1v18h-1zM999 589h1v21h-1zM1003 590h1v20h-1zM1007 590h1v20h-1zM1011 592h1v18h-1zM1015 591h1v19h-1zM1019 591h1v19h-1zM1023 588h1v22h-1zM1027 588h1v22h-1zM1031 590h1v20h-1zM1035 591h1v19h-1zM1039 594h1v16h-1zM1043 598h1v12h-1zM1047 598h1v12h-1zM1051 597h1v13h-1zM1055 598h1v12h-1zM1059 599h1v11h-1zM1063 596h1v14h-1zM1067 597h1v13h-1zM1071 595h1v15h-1zM1075 593h1v17h-1zM1079 594h1v16h-1zM1083 595h1v15h-1zM1087 595h1v15h-1zM1091 597h1v13h-1zM1095 598h1v12h-1zM1099 598h1v12h-1zM1103 597h1v13h-1zM1107 596h1v14h-1zM1111 595h1v15h-1zM1115 594h1v16h-1zM1119 597h1v13h-1zM1123 602h1v8h-1zM1127 607h1v3h-1z" fill="#C0C0C0"/><path d="M3 597h1v1h-1zM4 598h1v1h-1zM5 599h1v1h-1zM9 602h1v1h-1zM10 603h1v1h-1zM11 604h1v1h-1zM15 607h1v1h-1zM16 608h2v1h-2zM21 611h2v1h-2zM23 612h1v1h-1zM27 613h3v1h-3zM33 614h3v1h-3zM39 614h3v1h-3zM45 614h1v1h-1zM46 615h2v1h-2zM51 615h3v1h-3zM57 616h1v1h-1zM58 617h2v1h-2zM63 618h3v1h-3zM69 619h1v1h-1zM70 620h2v1h-2zM75 621h3v1h-3zM81 621h1v1h-1zM82 622h2v1h-2zM87 621h3v1h-3zM93 621h3v1h-3zM99 620h3v1h-3zM105 619h3v1h-3zM111 620h3v1h-3zM117 620h1v1h-1zM118 621h2v1h-2zM123 622h3v1h-3zM129 623h1v1h-1zM130 624h2v1h-2zM135 626h3v1h-3zM141 627h1v1h-1zM142 628h2v1h-2zM147 628h3v1h-3zM153 629h1v1h-1zM154 630h2v1h-2zM159 630h3v1h-3zM165 631h1v1h-1zM166 632h2v1h-2zM171 632h3v1h-3zM177 632h3v1h-3zM183 631h3v1h-3zM189 630h2v1h-2zM191 629h1v1h-1zM195 626h1v1h-1zM196 625h2v1h-2zM201 621h1v1h-1zM202 620h1v1h-1zM203 619h1v1h-1zM207 615h1v1h-1zM208 614h2v1h-2zM213 610h1v1h-1zM214 609h1v1h-1zM215 608h1v1h-1zM219 604h2v1h-2zM221 603h1v1h-1zM225 601h2v1h-2zM227 600h1v1h-1zM231 598h3v1h-3zM237 598h1v1h-1zM238 597h2v1h-2zM243 597h3v1h-3zM249 598h3v1h-3zM255 597h3v1h-3zM261 597h1v1h-1zM262 596h2v1h-2zM267 595h3v1h-3zM273 593h2v1h-2zM275 592h1v1h-1zM279 591h2v1h-2zM281 590h1v1h-1zM285 589h1v1h-1zM286 588h2v1h-2zM291 586h3v1h-3zM297 585h3v1h-3zM303 585h3v1h-3zM309 585h3v1h-3zM315 586h2v1h-2zM317 587h1v1h-1zM321 589h2v1h-2zM323 590h1v1h-1zM327 592h2v1h-2zM329 593h1v1h-1zM333 595h2v1h-2zM335 596h1v1h-1zM339 598h2v1h-2zM341 599h1v1h-1zM345 601h2v1h-2zM347 602h1v1h-1zM351 603h3v1h-3zM357 604h3v1h-3zM363 603h3v1h-3zM369 602h1v1h-1zM370 601h2v1h-2zM375 599h3v1h-3zM381 598h1v1h-1zM382 597h2v1h-2zM387 596h3v1h-3zM393 596h3v1h-3zM399 598h2v1h-2zM401 599h1v1h-1zM405 601h1v1h-1zM406 602h1v1h-1zM407 603h1v1h-1zM411 606h1v1h-1zM412 607h2v1h-2zM417 610h1v1h-1zM418 611h1v1h-1zM419 612h1v1h-1zM423 615h1v1h-1zM424 616h2v1h-2zM429 619h1v1h-1zM430 620h1v1h-1zM431 621h1v1h-1zM435 623h3v1h-3zM441 624h3v1h-3zM447 624h3v1h-3zM453 624h1v1h-1zM454 623h2v1h-2zM459 621h3v1h-3zM465 619h2v1h-2zM467 618h1v1h-1zM471 617h2v1h-2zM473 616h1v1h-1zM477 614h2v1h-2zM479 613h1v1h-1zM483 612h2v1h-2zM485 611h1v1h-1zM489 610h1v1h-1zM490 609h2v1h-2zM495 607h2v1h-2zM497 606h1v1h-1zM501 604h1v1h-1zM502 603h1v1h-1zM503 602h1v1h-1zM507 600h1v1h-1zM508 599h2v1h-2zM513 595h1v1h-1zM514 594h1v1h-1zM515 593h1v1h-1zM519 590h1v1h-1zM520 589h1v1h-1zM521 588h1v1h-1zM525 585h1v1h-1zM526 584h1v1h-1zM527 583h1v1h-1zM531 579h2v1h-2zM533 578h1v1h-1zM537 576h2v1h-2zM539 575h1v1h-1zM543 573h3v1h-3zM549 572h3v1h-3zM555 573h3v1h-3zM561 574h1v1h-1zM562 575h2v1h-2zM567 576h2v1h-2zM569 577h1v1h-1zM573 579h2v1h-2zM575 580h1v1h-1zM579 582h1v1h-1zM580 583h1v1h-1zM581 584h1v1h-1zM585 587h1v1h-1zM586 588h1v1h-1zM587 589h1v1h-1zM591 592h1v1h-1zM592 593h2v1h-2zM597 597h1v1h-1zM598 598h1v1h-1zM599 599h1v1h-1zM603 602h1v1h-1zM604 603h2v1h-2zM609 606h1v1h-1zM610 607h1v1h-1zM611 608h1v1h-1zM615 610h2v1h-2zM617 611h1v1h-1zM621 613h2v1h-2zM623 614h1v1h-1zM627 616h3v1h-3zM633 618h2v1h-2zM635 619h1v1h-1zM639 620h3v1h-3zM645 621h1v1h-1zM646 622h2v1h-2zM651 624h2v1h-2zM653 625h1v1h-1zM657 626h1v1h-1zM658 627h2v1h-2zM663 629h2v1h-2zM665 630h1v1h-1zM669 632h2v1h-2zM671 633h1v1h-1zM675 636h1v1h-1zM676 637h2v1h-2zM681 640h1v1h-1zM682 641h1v1h-1zM683 642h1v1h-1zM687 644h3v1h-3zM693 645h3v1h-3zM699 644h3v1h-3zM705 642h2v1h-2zM707 641h1v1h-1zM711 638h3v1h-3zM717 637h1v1h-1zM718 636h2v1h-2zM723 636h2v1h-2zM725 637h1v1h-1zM729 639h2v1h-2zM731 640h1v1h-1zM735 643h1v1h-1zM736 644h2v1h-2zM741 648h1v1h-1zM742 649h1v1h-1zM743 650h1v1h-1zM747 654h3v1h-3zM753 655h1v1h-1zM754 656h2v1h-2zM759 655h2v1h-2zM761 654h1v1h-1zM765 652h1v1h-1zM766 651h1v1h-1zM767 650h1v1h-1zM771 646h1v1h-1zM772 645h1v1h-1zM773 644h1v1h-1zM776 640h1v1h-1zM777 638h1v2h-1zM781 633h1v2h-1zM782 632h1v1h-1zM786 628h1v1h-1zM787 627h1v1h-1zM788 626h1v1h-1zM792 623h1v1h-1zM793 622h2v1h-2zM798 619h1v1h-1zM799 618h2v1h-2zM804 617h2v1h-2zM806 616h1v1h-1zM810 616h3v1h-3zM816 616h2v1h-2zM818 617h1v1h-1zM822 618h3v1h-3zM828 618h2v1h-2zM830 619h1v1h-1zM834 618h3v1h-3zM840 618h2v1h-2zM842 617h1v1h-1zM846 616h1v1h-1zM847 615h2v1h-2zM852 613h2v1h-2zM854 612h1v1h-1zM858 610h1v1h-1zM859 609h2v1h-2zM864 608h2v1h-2zM866 607h1v1h-1zM870 607h3v1h-3zM876 610h2v1h-2zM878 611h1v1h-1zM882 614h1v1h-1zM883 615h1v1h-1zM884 616h1v1h-1zM888 619h1v1h-1zM889 620h1v1h-1zM890 621h1v1h-1zM893 625h1v1h-1zM894 626h1v1h-1zM895 627h1v1h-1zM899 630h1v1h-1zM900 631h2v1h-2zM905 634h2v1h-2zM907 635h1v1h-1zM911 636h3v1h-3zM917 637h1v1h-1zM918 636h2v1h-2zM923 635h2v1h-2zM925 634h1v1h-1zM929 632h1v1h-1zM930 631h1v1h-1zM931 630h1v1h-1zM935 628h2v1h-2zM937 627h1v1h-1zM941 625h2v1h-2zM943 624h1v1h-1zM947 623h2v1h-2zM949 622h1v1h-1zM953 620h2v1h-2zM955 619h1v1h-1zM959 617h2v1h-2zM961 616h1v1h-1zM965 614h1v1h-1zM966 613h1v1h-1zM967 612h1v1h-1zM971 610h1v1h-1zM972 609h2v1h-2zM977 606h2v1h-2zM979 605h1v1h-1zM983 602h2v1h-2zM985 601h1v1h-1zM989 599h2v1h-2zM991 598h1v1h-1zM995 597h3v1h-3zM1001 596h1v1h-1zM1002 595h2v1h-2zM1007 594h3v1h-3zM1013 593h1v1h-1zM1014 592h2v1h-2zM1019 592h3v1h-3zM1025 591h1v1h-1zM1026 590h2v1h-2zM1031 590h3v1h-3zM1037 590h3v1h-3zM1043 591h3v1h-3zM1049 592h1v1h-1zM1050 593h2v1h-2zM1055 593h2v1h-2zM1057 594h1v1h-1zM1061 595h1v1h-1zM1062 596h2v1h-2zM1067 596h3v1h-3zM1073 597h3v1h-3zM1079 596h3v1h-3zM1085 596h3v1h-3zM1091 596h3v1h-3zM1097 595h1v1h-1zM1098 596h2v1h-2zM1103 596h3v1h-3zM1109 596h3v1h-3zM1115 596h3v1h-3zM1121 596h1v1h-1zM1122 597h2v1h-2z" fill="#FF0000"/></g><g clip-path="url(#c3)"><line x1="3" x2="1414" y1="708.5" y2="708.5" stroke="#C0C0C0" stroke-width="1" stroke-dasharray="3 3"/><line x1="3" x2="1414" y1="759.5" y2="759.5" stroke="#C0C0C0" stroke-width="1" stroke-dasharray="3 3"/><path d="M3 737h3v1h-3zM6 738h2v1h-2zM8 737h2v1h-2zM10 736h1v1h-1zM11 735h3v1h-3zM14 734h1v1h-1zM15 734h1v2h-1zM16 736h1v3h-1zM17 739h1v3h-1zM18 742h1v3h-1zM19 745h1v2h-1zM20 744h1v2h-1zM21 742h1v2h-1zM22 740h1v2h-1zM23 738h1v2h-1zM24 736h1v2h-1zM25 734h1v2h-1zM26 732h1v2h-1zM27 730h1v2h-1zM28 731h2v1h-2zM30 732h1v1h-1zM31 733h2v1h-2zM33 734h2v1h-2zM35 735h3v1h-3zM38 736h4v1h-4zM42 737h1v1h-1zM43 737h1v2h-1zM44 739h1v2h-1zM45 741h1v2h-1zM46 743h1v2h-1zM47 745h1v2h-1zM48 747h1v2h-1zM49 749h1v2h-1zM50 751h1v2h-1zM51 753h2v1h-2zM53 752h2v1h-2zM55 751h4v1h-4zM59 750h1v2h-1zM60 747h1v3h-1zM61 745h1v2h-1zM62 742h1v3h-1zM63 740h1v2h-1zM64 740h1v1h-1zM65 741h2v1h-2zM67 742h1v1h-1zM68 741h1v1h-1zM69 740h1v1h-1zM70 739h1v1h-1zM71 737h1v2h-1zM72 735h1v2h-1zM73 732h1v3h-1zM74 730h1v2h-1zM75 728h1v2h-1zM76 728h2v1h-2zM78 729h1v1h-1zM79 729h1v2h-1zM80 731h1v3h-1zM81 734h1v2h-1zM82 736h1v3h-1zM83 739h1v2h-1zM84 740h2v1h-2zM86 741h2v1h-2zM88 740h1v1h-1zM89 739h1v1h-1zM90 738h1v1h-1zM91 737h1v2h-1zM92 739h1v3h-1zM93 742h1v4h-1zM94 746h1v3h-1zM95 748h1v3h-1zM96 744h1v4h-1zM97 740h1v4h-1zM98 736h1v4h-1zM99 734h1v2h-1zM100 734h2v1h-2zM102 735h1v1h-1zM103 735h1v2h-1zM104 737h1v3h-1zM105 740h1v3h-1zM106 743h1v3h-1zM107 746h1v2h-1zM108 747h2v1h-2zM110 746h1v1h-1zM111 745h1v2h-1zM112 741h1v4h-1zM113 738h1v3h-1zM114 734h1v4h-1zM115 732h1v2h-1zM116 734h1v2h-1zM117 736h1v3h-1zM118 739h1v2h-1zM119 741h1v2h-1zM120 742h1v1h-1zM121 743h2v1h-2zM123 744h2v1h-2zM125 745h2v1h-2zM127 746h1v1h-1zM128 747h2v1h-2zM130 748h1v1h-1zM131 749h2v1h-2zM133 748h2v1h-2zM135 746h1v2h-1zM136 743h1v3h-1zM137 740h1v3h-1zM138 737h1v3h-1zM139 735h1v2h-1zM140 736h2v1h-2zM142 737h1v1h-1zM143 738h3v1h-3zM146 739h4v1h-4zM150 740h1v1h-1zM151 740h1v2h-1zM152 742h1v2h-1zM153 744h1v2h-1zM154 746h1v2h-1zM155 748h1v1h-1zM156 747h2v1h-2zM158 746h1v1h-1zM159 745h1v2h-1zM160 747h1v2h-1zM161 749h1v2h-1zM162 751h1v2h-1zM163 751h1v3h-1zM164 747h1v4h-1zM165 743h1v4h-1zM166 739h1v4h-1zM167 737h1v2h-1zM168 737h8v1h-8zM176 738h1v1h-1zM177 739h1v1h-1zM178 740h1v1h-1zM179 740h1v2h-1zM180 738h1v2h-1zM181 736h1v2h-1zM182 734h1v2h-1zM183 732h1v2h-1zM184 731h1v1h-1zM185 730h1v1h-1zM186 729h1v1h-1zM187 728h1v1h-1zM188 727h1v1h-1zM189 726h1v1h-1zM190 725h1v1h-1zM191 724h2v1h-2zM193 723h2v1h-2zM195 722h5v1h-5zM200 721h2v1h-2zM202 720h1v1h-1zM203 719h3v1h-3zM206 720h2v1h-2zM208 721h1v1h-1zM209 722h1v2h-1zM210 724h1v1h-1zM211 725h3v1h-3zM214 724h2v1h-2zM216 725h1v1h-1zM217 726h1v2h-1zM218 728h1v1h-1zM219 729h3v1h-3zM222 730h4v1h-4zM226 731h2v1h-2zM228 730h1v1h-1zM229 728h1v2h-1zM230 727h1v1h-1zM231 726h2v1h-2zM233 727h2v1h-2zM235 728h3v1h-3zM238 727h3v1h-3zM241 726h2v1h-2zM243 725h3v1h-3zM246 724h2v1h-2zM248 723h1v1h-1zM249 721h1v2h-1zM250 720h1v1h-1zM251 719h1v1h-1zM252 718h2v1h-2zM254 717h1v1h-1zM255 716h1v1h-1zM256 715h1v1h-1zM257 714h1v1h-1zM258 713h1v1h-1zM259 712h4v1h-4zM263 712h1v2h-1zM264 714h1v2h-1zM265 716h1v2h-1zM266 718h1v2h-1zM267 720h2v1h-2zM269 721h2v1h-2zM271 721h1v2h-1zM272 719h1v2h-1zM273 717h1v2h-1zM274 715h1v2h-1zM275 713h1v2h-1zM276 712h2v1h-2zM278 711h1v1h-1zM279 710h1v1h-1zM280 709h1v1h-1zM281 708h1v1h-1zM282 707h1v1h-1zM283 706h1v2h-1zM284 708h1v3h-1zM285 711h1v3h-1zM286 714h1v3h-1zM287 717h1v2h-1zM288 718h6v1h-6zM294 719h5v1h-5zM299 719h1v2h-1zM300 721h1v2h-1zM301 723h1v2h-1zM302 725h1v2h-1zM303 727h1v2h-1zM304 729h1v1h-1zM305 730h1v1h-1zM306 731h1v1h-1zM307 732h1v1h-1zM308 731h2v1h-2zM310 730h1v1h-1zM311 729h1v1h-1zM312 730h2v1h-2zM314 731h1v1h-1zM315 732h7v1h-7zM322 731h3v1h-3zM325 732h2v1h-2zM327 733h1v1h-1zM328 732h2v1h-2zM330 731h1v1h-1zM331 730h1v2h-1zM332 732h1v2h-1zM333 734h1v3h-1zM334 737h1v2h-1zM335 739h1v2h-1zM336 738h1v2h-1zM337 737h1v1h-1zM338 735h1v2h-1zM339 734h2v1h-2zM341 735h2v1h-2zM343 736h2v1h-2zM345 735h2v1h-2zM347 733h1v2h-1zM348 729h1v4h-1zM349 726h1v3h-1zM350 722h1v4h-1zM351 720h1v2h-1zM352 720h2v1h-2zM354 721h1v1h-1zM355 720h1v2h-1zM356 717h1v3h-1zM357 714h1v3h-1zM358 711h1v3h-1zM359 709h1v2h-1zM360 711h1v3h-1zM361 714h1v2h-1zM362 716h1v3h-1zM363 719h1v2h-1zM364 720h1v1h-1zM365 719h2v1h-2zM367 718h1v1h-1zM368 717h1v1h-1zM369 716h1v1h-1zM370 715h1v1h-1zM371 714h1v2h-1zM372 716h1v2h-1zM373 718h1v2h-1zM374 720h1v2h-1zM375 722h1v2h-1zM376 724h1v2h-1zM377 726h1v2h-1zM378 728h1v2h-1zM379 730h1v2h-1zM380 731h4v1h-4zM384 732h1v1h-1zM385 733h1v1h-1zM386 734h1v1h-1zM387 735h3v1h-3zM390 734h2v1h-2zM392 735h1v1h-1zM393 736h1v1h-1zM394 737h1v1h-1zM395 738h1v1h-1zM396 739h1v1h-1zM397 740h1v2h-1zM398 742h1v1h-1zM399 743h1v2h-1zM400 745h1v3h-1zM401 748h1v4h-1zM402 752h1v3h-1zM403 755h1v2h-1zM404 755h2v1h-2zM406 754h1v1h-1zM407 753h1v1h-1zM408 751h1v2h-1zM409 749h1v2h-1zM410 747h1v2h-1zM411 746h3v1h-3zM414 747h2v1h-2zM416 748h2v1h-2zM418 749h1v1h-1zM419 750h1v1h-1zM420 749h1v1h-1zM421 748h1v1h-1zM422 747h1v1h-1zM423 746h1v1h-1zM424 745h2v1h-2zM426 744h1v1h-1zM427 743h5v1h-5zM432 742h1v1h-1zM433 741h1v1h-1zM434 740h1v1h-1zM435 739h2v1h-2zM437 740h2v1h-2zM439 740h1v2h-1zM440 737h1v3h-1zM441 735h1v2h-1zM442 732h1v3h-1zM443 730h1v2h-1zM444 731h1v1h-1zM445 732h1v1h-1zM446 733h1v1h-1zM447 734h2v1h-2zM449 735h2v1h-2zM451 736h1v1h-1zM452 734h1v2h-1zM453 732h1v2h-1zM454 730h1v2h-1zM455 729h7v1h-7zM462 728h2v1h-2zM464 729h1v1h-1zM465 730h1v2h-1zM466 732h1v1h-1zM467 733h1v1h-1zM468 732h1v1h-1zM469 731h1v1h-1zM470 730h1v1h-1zM471 729h1v1h-1zM472 727h1v2h-1zM473 725h1v2h-1zM474 723h1v2h-1zM475 722h3v1h-3zM478 721h7v1h-7zM485 722h2v1h-2zM487 723h1v1h-1zM488 722h1v1h-1zM489 721h1v1h-1zM490 720h1v1h-1zM491 718h1v2h-1zM492 716h1v2h-1zM493 714h1v2h-1zM494 712h1v2h-1zM495 710h1v2h-1zM496 709h1v1h-1zM497 707h1v2h-1zM498 706h1v1h-1zM499 705h1v1h-1zM500 703h1v2h-1zM501 702h1v1h-1zM502 700h1v2h-1zM503 699h1v1h-1zM504 700h2v1h-2zM506 701h1v1h-1zM507 702h3v1h-3zM510 701h2v1h-2zM512 699h1v2h-1zM513 698h1v1h-1zM514 696h1v2h-1zM515 695h6v1h-6zM521 696h2v1h-2zM523 697h1v1h-1zM524 698h1v1h-1zM525 699h1v1h-1zM526 700h1v1h-1zM527 701h3v1h-3zM530 700h7v1h-7zM537 701h2v1h-2zM539 702h1v2h-1zM540 704h1v2h-1zM541 706h1v2h-1zM542 708h1v2h-1zM543 710h1v1h-1zM544 709h1v1h-1zM545 708h1v1h-1zM546 707h1v1h-1zM547 706h1v2h-1zM548 708h1v2h-1zM549 710h1v2h-1zM550 712h1v2h-1zM551 714h1v2h-1zM552 716h1v1h-1zM553 717h1v1h-1zM554 718h1v1h-1zM555 719h2v1h-2zM557 718h2v1h-2zM559 717h1v1h-1zM560 716h1v1h-1zM561 714h1v2h-1zM562 713h1v1h-1zM563 712h2v1h-2zM565 711h2v1h-2zM567 710h1v3h-1zM568 713h1v4h-1zM569 717h1v5h-1zM570 722h1v4h-1zM571 726h1v4h-1zM572 730h1v2h-1zM573 732h1v2h-1zM574 734h1v2h-1zM575 736h1v1h-1zM576 737h1v1h-1zM577 738h1v2h-1zM578 740h1v1h-1zM579 741h1v2h-1zM580 743h1v2h-1zM581 745h1v3h-1zM582 748h1v2h-1zM583 750h1v2h-1zM584 748h1v2h-1zM585 746h1v2h-1zM586 744h1v2h-1zM587 742h1v2h-1zM588 742h2v1h-2zM590 743h2v1h-2zM592 742h1v1h-1zM593 740h1v2h-1zM594 739h1v1h-1zM595 738h1v1h-1zM596 737h2v1h-2zM598 736h1v1h-1zM599 735h3v1h-3zM602 736h2v1h-2zM604 737h1v1h-1zM605 738h1v2h-1zM606 740h1v1h-1zM607 741h1v1h-1zM608 739h1v2h-1zM609 738h1v1h-1zM610 736h1v2h-1zM611 735h1v1h-1zM612 736h1v1h-1zM613 737h1v2h-1zM614 739h1v1h-1zM615 740h1v2h-1zM616 742h1v3h-1zM617 745h1v2h-1zM618 747h1v3h-1zM619 750h1v2h-1zM620 751h1v1h-1zM621 752h2v1h-2zM623 753h3v1h-3zM626 752h2v1h-2zM628 750h1v2h-1zM629 748h1v2h-1zM630 746h1v2h-1zM631 745h1v1h-1zM632 743h1v2h-1zM633 741h1v2h-1zM634 739h1v2h-1zM635 738h1v1h-1zM636 737h2v1h-2zM638 736h1v1h-1zM639 735h1v1h-1zM640 736h2v1h-2zM642 737h1v1h-1zM643 738h1v2h-1zM644 740h1v3h-1zM645 743h1v3h-1zM646 746h1v3h-1zM647 749h1v2h-1zM648 750h2v1h-2zM650 751h1v1h-1zM651 751h1v2h-1zM652 753h1v2h-1zM653 755h1v2h-1zM654 757h1v2h-1zM655 759h1v2h-1zM656 760h4v1h-4zM660 759h1v1h-1zM661 758h1v1h-1zM662 757h1v1h-1zM663 756h1v1h-1zM664 757h2v1h-2zM666 758h1v1h-1zM667 759h1v1h-1zM668 760h1v1h-1zM669 761h1v2h-1zM670 763h1v1h-1zM671 763h1v2h-1zM672 761h1v2h-1zM673 759h1v2h-1zM674 757h1v2h-1zM675 755h1v2h-1zM676 755h2v1h-2zM678 756h1v1h-1zM679 755h1v2h-1zM680 753h1v2h-1zM681 751h1v2h-1zM682 749h1v2h-1zM683 748h1v1h-1zM684 747h1v1h-1zM685 745h1v2h-1zM686 744h1v1h-1zM687 743h2v1h-2zM689 744h2v1h-2zM691 744h1v2h-1zM692 741h1v3h-1zM693 739h1v2h-1zM694 736h1v3h-1zM695 734h1v2h-1zM696 734h8v1h-8zM704 733h1v1h-1zM705 732h1v1h-1zM706 731h1v1h-1zM707 730h1v2h-1zM708 732h1v4h-1zM709 736h1v3h-1zM710 739h1v4h-1zM711 743h1v3h-1zM712 746h1v3h-1zM713 749h1v4h-1zM714 753h1v3h-1zM715 756h1v2h-1zM716 758h1v1h-1zM717 759h1v1h-1zM718 760h1v1h-1zM719 761h3v1h-3zM722 762h3v1h-3zM725 763h2v1h-2zM727 764h1v1h-1zM728 763h1v1h-1zM729 761h1v2h-1zM730 760h1v1h-1zM731 759h1v1h-1zM732 758h1v1h-1zM733 756h1v2h-1zM734 755h1v1h-1zM735 754h3v1h-3zM738 755h4v1h-4zM742 756h1v1h-1zM743 755h1v2h-1zM744 753h1v2h-1zM745 751h1v2h-1zM746 749h1v2h-1zM747 746h1v3h-1zM748 743h1v3h-1zM749 739h1v4h-1zM750 736h1v3h-1zM751 734h1v2h-1zM752 735h2v1h-2zM754 736h1v1h-1zM755 737h3v1h-3zM758 736h3v1h-3zM761 737h2v1h-2zM763 737h1v2h-1zM764 734h1v3h-1zM765 732h1v2h-1zM766 729h1v3h-1zM767 727h1v2h-1zM768 727h2v1h-2zM770 728h2v1h-2zM772 727h1v1h-1zM773 726h1v1h-1zM774 725h1v1h-1zM775 724h3v1h-3zM778 725h1v1h-1zM779 725h1v2h-1zM780 727h1v2h-1zM781 729h1v2h-1zM782 731h1v2h-1zM783 733h1v2h-1zM784 733h1v1h-1zM785 732h1v1h-1zM786 731h1v1h-1zM787 730h1v2h-1zM788 732h1v2h-1zM789 734h1v2h-1zM790 736h1v2h-1zM791 738h1v2h-1zM792 739h2v1h-2zM794 740h4v1h-4zM798 739h2v1h-2zM800 737h1v2h-1zM801 736h1v1h-1zM802 734h1v2h-1zM803 733h2v1h-2zM805 734h2v1h-2zM807 735h1v1h-1zM808 736h1v2h-1zM809 738h1v2h-1zM810 740h1v2h-1zM811 742h7v1h-7zM818 741h4v1h-4zM822 742h2v1h-2zM824 740h1v2h-1zM825 738h1v2h-1zM826 736h1v2h-1zM827 735h2v1h-2zM829 736h2v1h-2zM831 736h1v2h-1zM832 733h1v3h-1zM833 730h1v3h-1zM834 727h1v3h-1zM835 725h1v2h-1zM836 724h1v1h-1zM837 722h1v2h-1zM838 721h1v1h-1zM839 720h2v1h-2zM841 721h2v1h-2zM843 722h1v1h-1zM844 723h1v1h-1zM845 724h1v1h-1zM846 725h1v1h-1zM847 726h1v1h-1zM848 727h2v1h-2zM850 728h1v1h-1zM851 729h1v1h-1zM852 727h1v2h-1zM853 725h1v2h-1zM854 723h1v2h-1zM855 722h1v2h-1zM856 724h1v2h-1zM857 726h1v2h-1zM858 728h1v2h-1zM859 730h1v3h-1zM860 733h1v3h-1zM861 736h1v3h-1zM862 739h1v3h-1zM863 742h1v2h-1zM864 743h2v1h-2zM866 742h1v1h-1zM867 742h1v2h-1zM868 744h1v4h-1zM869 748h1v3h-1zM870 751h1v4h-1zM871 755h1v2h-1zM872 753h1v2h-1zM873 751h1v2h-1zM874 749h1v2h-1zM875 747h1v2h-1zM876 747h2v1h-2zM878 748h4v1h-4zM882 749h3v1h-3zM885 750h2v1h-2zM887 751h3v1h-3zM890 752h3v1h-3zM893 753h2v1h-2zM895 753h1v2h-1zM896 750h1v3h-1zM897 746h1v4h-1zM898 743h1v3h-1zM899 741h1v2h-1zM900 742h2v1h-2zM902 743h1v1h-1zM903 744h1v1h-1zM904 743h1v1h-1zM905 741h1v2h-1zM906 740h1v1h-1zM907 739h1v1h-1zM908 738h2v1h-2zM910 737h1v1h-1zM911 736h3v1h-3zM914 735h2v1h-2zM916 734h1v1h-1zM917 733h1v1h-1zM918 732h1v1h-1zM919 731h1v1h-1zM920 732h1v2h-1zM921 734h1v1h-1zM922 735h1v2h-1zM923 737h1v1h-1zM924 735h1v2h-1zM925 733h1v2h-1zM926 731h1v2h-1zM927 730h2v1h-2zM929 729h2v1h-2zM931 728h1v2h-1zM932 730h1v4h-1zM933 734h1v3h-1zM934 737h1v4h-1zM935 741h1v2h-1zM936 742h2v1h-2zM938 743h1v1h-1zM939 742h1v2h-1zM940 740h1v2h-1zM941 738h1v2h-1zM942 736h1v2h-1zM943 734h1v2h-1zM944 733h2v1h-2zM946 732h1v1h-1zM947 731h3v1h-3zM950 730h2v1h-2zM952 728h1v2h-1zM953 727h1v1h-1zM954 725h1v2h-1zM955 724h1v1h-1zM956 723h1v1h-1zM957 721h1v2h-1zM958 720h1v1h-1zM959 719h2v1h-2zM961 720h2v1h-2zM963 721h3v1h-3zM966 720h2v1h-2zM968 721h1v2h-1zM969 723h1v1h-1zM970 724h1v2h-1zM971 726h1v2h-1zM972 728h1v2h-1zM973 730h1v3h-1zM974 733h1v2h-1zM975 735h1v2h-1zM976 733h1v2h-1zM977 731h1v2h-1zM978 729h1v2h-1zM979 728h2v1h-2zM981 727h2v1h-2zM983 726h5v1h-5zM988 724h1v2h-1zM989 723h1v1h-1zM990 721h1v2h-1zM991 720h2v1h-2zM993 721h2v1h-2zM995 722h1v1h-1zM996 721h2v1h-2zM998 720h1v1h-1zM999 719h1v1h-1zM1000 720h1v2h-1zM1001 722h1v1h-1zM1002 723h1v2h-1zM1003 725h5v1h-5zM1008 726h1v2h-1zM1009 728h1v2h-1zM1010 730h1v2h-1zM1011 731h1v2h-1zM1012 729h1v2h-1zM1013 727h1v2h-1zM1014 725h1v2h-1zM1015 723h1v2h-1zM1016 723h2v1h-2zM1018 724h2v1h-2zM1020 722h1v2h-1zM1021 721h1v1h-1zM1022 719h1v2h-1zM1023 718h1v2h-1zM1024 720h1v2h-1zM1025 722h1v2h-1zM1026 724h1v2h-1zM1027 726h3v1h-3zM1030 727h3v1h-3zM1033 728h2v1h-2zM1035 729h1v1h-1zM1036 730h2v1h-2zM1038 731h1v1h-1zM1039 732h1v1h-1zM1040 733h1v1h-1zM1041 734h1v2h-1zM1042 736h1v1h-1zM1043 736h1v2h-1zM1044 734h1v2h-1zM1045 732h1v2h-1zM1046 730h1v2h-1zM1047 728h1v2h-1zM1048 728h1v1h-1zM1049 727h2v1h-2zM1051 726h1v1h-1zM1052 727h1v1h-1zM1053 728h1v2h-1zM1054 730h1v1h-1zM1055 731h3v1h-3zM1058 730h1v1h-1zM1059 729h1v2h-1zM1060 727h1v2h-1zM1061 725h1v2h-1zM1062 723h1v2h-1zM1063 721h1v2h-1zM1064 723h1v2h-1zM1065 725h1v2h-1zM1066 727h1v2h-1zM1067 729h1v1h-1zM1068 728h1v1h-1zM1069 726h1v2h-1zM1070 725h1v1h-1zM1071 724h2v1h-2zM1073 723h2v1h-2zM1075 722h1v1h-1zM1076 723h1v2h-1zM1077 725h1v1h-1zM1078 726h1v2h-1zM1079 728h3v1h-3zM1082 729h4v1h-4zM1086 728h2v1h-2zM1088 729h1v1h-1zM1089 730h1v1h-1zM1090 731h1v1h-1zM1091 732h3v1h-3zM1094 731h2v1h-2zM1096 730h1v1h-1zM1097 728h1v2h-1zM1098 727h1v1h-1zM1099 726h2v1h-2zM1101 725h2v1h-2zM1103 724h3v1h-3zM1106 723h4v1h-4zM1110 724h3v1h-3zM1113 723h2v1h-2zM1115 722h1v2h-1zM1116 724h1v2h-1zM1117 726h1v3h-1zM1118 729h1v2h-1zM1119 731h1v3h-1zM1120 734h1v3h-1zM1121 737h1v3h-1zM1122 740h1v3h-1zM1123 743h1v2h-1zM1124 744h2v1h-2zM1126 743h2v1h-2z" fill="#1E90FF"/></g><g fill="#000"><rect x="1419" y="30" width="2" height="1"/><rect x="1419" y="63" width="2" height="1"/><rect x="1419" y="129" width="2" height="1"/><rect x="1419" y="162" width="2" height="1"/><rect x="1419" y="195" width="2" height="1"/><rect x="1419" y="228" width="2" height="1"/><rect x="1419" y="261" width="2" height="1"/><rect x="1419" y="327" width="2" height="1"/><rect x="1419" y="393" width="2" height="1"/><rect x="1419" y="459" width="2" height="1"/><rect x="1419" y="492" width="2" height="1"/><rect x="1419" y="525" width="2" height="1"/><rect x="1419" y="558" width="2" height="1"/><rect x="1419" y="610" width="2" height="1"/><rect x="1419" y="708" width="2" height="1"/><rect x="1419" y="759" width="2" height="1"/><rect x="1419" y="565" width="1" height="1"/><rect x="1419" y="665" width="1" height="1"/><rect x="1419" y="670" width="1" height="1"/><rect x="1419" y="797" width="1" height="1"/><rect x="3" y="799" width="1" height="3"/><rect x="67" y="799" width="1" height="3"/><rect x="131" y="799" width="1" height="3"/><rect x="195" y="799" width="1" height="3"/><rect x="259" y="799" width="1" height="3"/><rect x="323" y="799" width="1" height="3"/><rect x="387" y="799" width="1" height="3"/><rect x="451" y="799" width="1" height="3"/><rect x="515" y="799" width="1" height="3"/><rect x="579" y="799" width="1" height="3"/><rect x="643" y="799" width="1" height="3"/><rect x="707" y="799" width="1" height="3"/><rect x="771" y="799" width="1" height="3"/><rect x="835" y="799" width="1" height="3"/><rect x="899" y="799" width="1" height="3"/><rect x="963" y="799" width="1" height="3"/><rect x="1027" y="799" width="1" height="3"/><rect x="1091" y="799" width="1" height="3"/></g><rect x="1420" y="91" width="41" height="11" fill="#FF0000"/><rect x="1420" y="195" width="41" height="11" fill="#FF0000"/><rect x="1420" y="290" width="41" height="11" fill="#00FF00"/><rect x="1420" y="355" width="41" height="11" fill="#000"/><rect x="1420" y="419" width="41" height="11" fill="#0000FF"/><rect x="1420" y="506" width="41" height="11" fill="#0000FF"/></svg>
<svg style="position:absolute;left:6px;top:30px" width="8" height="4"><path d="M0 4L3.5 0L7 4z" fill="#000"/></svg>
<div class="t" style="left:17.8px;top:25.8px;font-size:9.8px">USDCHF-,Daily</div>
<div class="t" style="left:92.3px;top:26.5px;font-size:9px;word-spacing:1.2px">0.98744 0.98783 0.98725 0.98752</div>
<div class="t" style="left:7px;top:568.7px;font-size:9.3px">MACD(12,26,9) 0.000439 0.001628</div>
<div class="t" style="left:7px;top:673.7px;font-size:9.3px">RSI(14) 41.6496</div>
<div class="t ax" style="top:25.5px">1.02580</div>
<div class="t ax" style="top:58.5px">1.02200</div>
<div class="t ax" style="top:124.5px">1.01440</div>
<div class="t ax" style="top:157.5px">1.01050</div>
<div class="t ax" style="top:190.5px">1.00670</div>
<div class="t ax" style="top:223.5px">1.00290</div>
<div class="t ax" style="top:256.5px">0.99910</div>
<div class="t ax" style="top:322.5px">0.99140</div>
<div class="t ax" style="top:388.5px">0.98380</div>
<div class="t ax" style="top:454.5px">0.97610</div>
<div class="t ax" style="top:487.5px">0.97230</div>
<div class="t ax" style="top:520.5px">0.96850</div>
<div class="t ax" style="top:553.5px">0.96470</div>
<div class="t axw" style="top:92.5px">1.01804</div>
<div class="t axw" style="top:196.5px">1.00602</div>
<div class="t axw" style="top:291.5px">0.99501</div>
<div class="t axw" style="top:356.5px">0.98752</div>
<div class="t axw" style="top:420.5px">0.98005</div>
<div class="t axw" style="top:507.5px">0.97007</div>
<div class="t ax" style="top:566px;left:1422px">0.00613</div>
<div class="t ax" style="top:606px;left:1422px">0.00</div>
<div class="t ax" style="top:654.5px;left:1422px">-0.007612</div>
<div class="t ax" style="top:670.5px;left:1422px">100</div>
<div class="t ax" style="top:704px;left:1422px">70</div>
<div class="t ax" style="top:755px;left:1422px">30</div>
<div class="t ax" style="top:786px;left:1422px">0</div>
<div class="t dt" style="left:2px">23 Nov 2018</div>
<div class="t dt" style="left:66px">12 Dec 2018</div>
<div class="t dt" style="left:130px">31 Dec 2018</div>
<div class="t dt" style="left:194px">18 Jan 2019</div>
<div class="t dt" style="left:258px">6 Feb 2019</div>
<div class="t dt" style="left:322px">25 Feb 2019</div>
<div class="t dt" style="left:386px">15 Mar 2019</div>
<div class="t dt" style="left:450px">3 Apr 2019</div>
<div class="t dt" style="left:514px">23 Apr 2019</div>
<div class="t dt" style="left:578px">12 May 2019</div>
<div class="t dt" style="left:642px">30 May 2019</div>
<div class="t dt" style="left:706px">18 Jun 2019</div>
<div class="t dt" style="left:770px">7 Jul 2019</div>
<div class="t dt" style="left:834px">25 Jul 2019</div>
<div class="t dt" style="left:898px">13 Aug 2019</div>
<div class="t dt" style="left:962px">1 Sep 2019</div>
<div class="t dt" style="left:1026px">19 Sep 2019</div>
<div class="t dt" style="left:1090px">8 Oct 2019</div>
<div style="position:absolute;left:4px;top:40px;width:223px;height:67px;background:#fff"></div><div style="position:absolute;left:6px;top:42px;width:219px;height:64px;font-family:'Liberation Sans',sans-serif;color:#fff">
<div style="position:absolute;left:0;top:0;width:52px;height:25px;background:linear-gradient(#F75252,#E23434);border-top:1px solid #D01818;border-left:1px solid #D01818"></div>
<div style="position:absolute;left:167px;top:0;width:52px;height:25px;background:linear-gradient(#F75252,#E23434);border-top:1px solid #D01818;border-right:1px solid #D01818"></div>
<div style="position:absolute;left:0;top:24px;width:109px;height:40px;background:linear-gradient(#DE2E2E,#C81818 55%,#AE0000);border-left:1px solid #C01010;border-bottom:1px solid #A00000"></div>
<div style="position:absolute;left:111px;top:24px;width:108px;height:40px;background:linear-gradient(#DE2E2E,#C81818 55%,#AE0000);border-right:1px solid #C01010;border-bottom:1px solid #A00000"></div>
<div style="position:absolute;left:4px;top:23px;width:44px;height:1px;background:#A81010"></div><div style="position:absolute;left:4px;top:24px;width:44px;height:1px;background:#EE6060"></div>
<div style="position:absolute;left:171px;top:23px;width:44px;height:1px;background:#A81010"></div><div style="position:absolute;left:171px;top:24px;width:44px;height:1px;background:#EE6060"></div>
<div class="t" style="left:12px;top:6px;font-size:11.5px;transform:scaleX(.93);transform-origin:0 0">SELL</div>
<div class="t" style="left:180.6px;top:6px;font-size:11.8px;transform:scaleX(1.0);transform-origin:0 0">BUY</div>
<div style="position:absolute;left:54px;top:0;width:111px;height:22px;background:#fff;border:1px solid #A6A8B0"></div>
<div style="position:absolute;left:55px;top:1px;width:20px;height:20px;background:linear-gradient(#F2F2F2 0,#EAEAEA 48%,#DADADA 52%,#D2D2D2);border-right:1px solid #B8B8C0"></div>
<div style="position:absolute;left:143px;top:1px;width:21px;height:20px;background:linear-gradient(#F2F2F2 0,#EAEAEA 48%,#DADADA 52%,#D2D2D2);border-left:1px solid #B8B8C0"></div>
<svg style="position:absolute;left:62px;top:9px" width="6" height="4"><path d="M0 0h6L3 3.5z" fill="#4A64C0"/></svg>
<svg style="position:absolute;left:151px;top:8px" width="6" height="4"><path d="M0 3.5h6L3 0z" fill="#4A64C0"/></svg>
<div class="t" style="left:100px;width:40px;text-align:right;top:5px;font-size:12px;color:#000">1.00</div>
<div class="t" style="left:20px;top:45px;font-size:12.2px;font-weight:bold">0.98</div>
<div class="t" style="left:47px;top:25.5px;font-size:33px;transform:scaleX(.97);transform-origin:0 0">75</div>
<div class="t" style="left:87.3px;top:29.5px;font-size:10.8px;font-weight:bold">2</div>
<div class="t" style="left:130px;top:45px;font-size:12.2px;font-weight:bold">0.98</div>
<div class="t" style="left:158px;top:25.5px;font-size:33px;transform:scaleX(.97);transform-origin:0 0">77</div>
<div class="t" style="left:198.6px;top:29px;font-size:10.8px;font-weight:bold">7</div>
</div>
<div style="position:absolute;left:0;top:820px;width:1461px;height:1px;background:#D8D8D8"></div>
<div style="position:absolute;left:0;top:821px;width:1461px;height:1px;background:#000"></div>
<div style="position:absolute;left:0;top:822px;width:1461px;height:19px;background:#F0F0F0"></div>
<div style="position:absolute;left:0;top:841px;width:1461px;height:2px;background:#FAFAFA"></div>
<div style="position:absolute;left:220px;top:820px;width:108px;height:20px;background:#fff;border:1px solid #000;border-top:none"></div>
<div class="t tab" style="left:15.5px;color:#6a6a6a;letter-spacing:0px">EURUSD-,Daily</div>
<div class="t tab" style="left:122px;color:#6a6a6a;letter-spacing:0.05px">AUDUSD-,Daily</div>
<div class="t tab" style="left:232px;color:#000;letter-spacing:0px">USDCHF-,Daily</div>
<div class="t tab" style="left:339px;color:#6a6a6a;letter-spacing:0.1px">USDCAD-,Daily</div>
<div class="t tab" style="left:448px;color:#6a6a6a;letter-spacing:0.2px">USDCNH-,Daily</div>
<div class="t tab" style="left:559px;color:#6a6a6a;letter-spacing:0.05px">EURCHF-,Weekly</div>
<div class="t tab" style="left:680px;color:#6a6a6a;letter-spacing:0.25px">XAUUSD-,Weekly</div>
<div class="t tab" style="left:803px;color:#6a6a6a;letter-spacing:0px">GBPUSD-,H1</div>
<div class="t tab" style="left:899px;color:#6a6a6a;letter-spacing:0.33px">UKOil-,H1</div>
<div class="t tab" style="left:978px;color:#6a6a6a;letter-spacing:0.27px">USDX-,Weekly</div>
<div class="t tab" style="left:1082px;color:#6a6a6a;letter-spacing:0px">EURCHF-,H1</div>
<div class="t tab" style="left:1176px;color:#6a6a6a;letter-spacing:0.2px">USOil-,H1</div>
<div style="position:absolute;left:112px;top:824px;width:1px;height:14px;background:#555"></div>
<div style="position:absolute;left:437px;top:824px;width:1px;height:14px;background:#555"></div>
<div style="position:absolute;left:548px;top:824px;width:1px;height:14px;background:#555"></div>
<div style="position:absolute;left:668px;top:824px;width:1px;height:14px;background:#555"></div>
<div style="position:absolute;left:794px;top:824px;width:1px;height:14px;background:#555"></div>
<div style="position:absolute;left:888px;top:824px;width:1px;height:14px;background:#555"></div>
<div style="position:absolute;left:968px;top:824px;width:1px;height:14px;background:#555"></div>
<div style="position:absolute;left:1072px;top:824px;width:1px;height:14px;background:#555"></div>
<div style="position:absolute;left:1165px;top:824px;width:1px;height:14px;background:#555"></div>
<div style="position:absolute;left:1243px;top:824px;width:1px;height:14px;background:#555"></div>
<svg style="position:absolute;left:1432px;top:825px" width="26" height="10"><path d="M5 1v7L1 4.5z M22 1v7l4 -3.5z" fill="#808080"/></svg>
</body></html>
